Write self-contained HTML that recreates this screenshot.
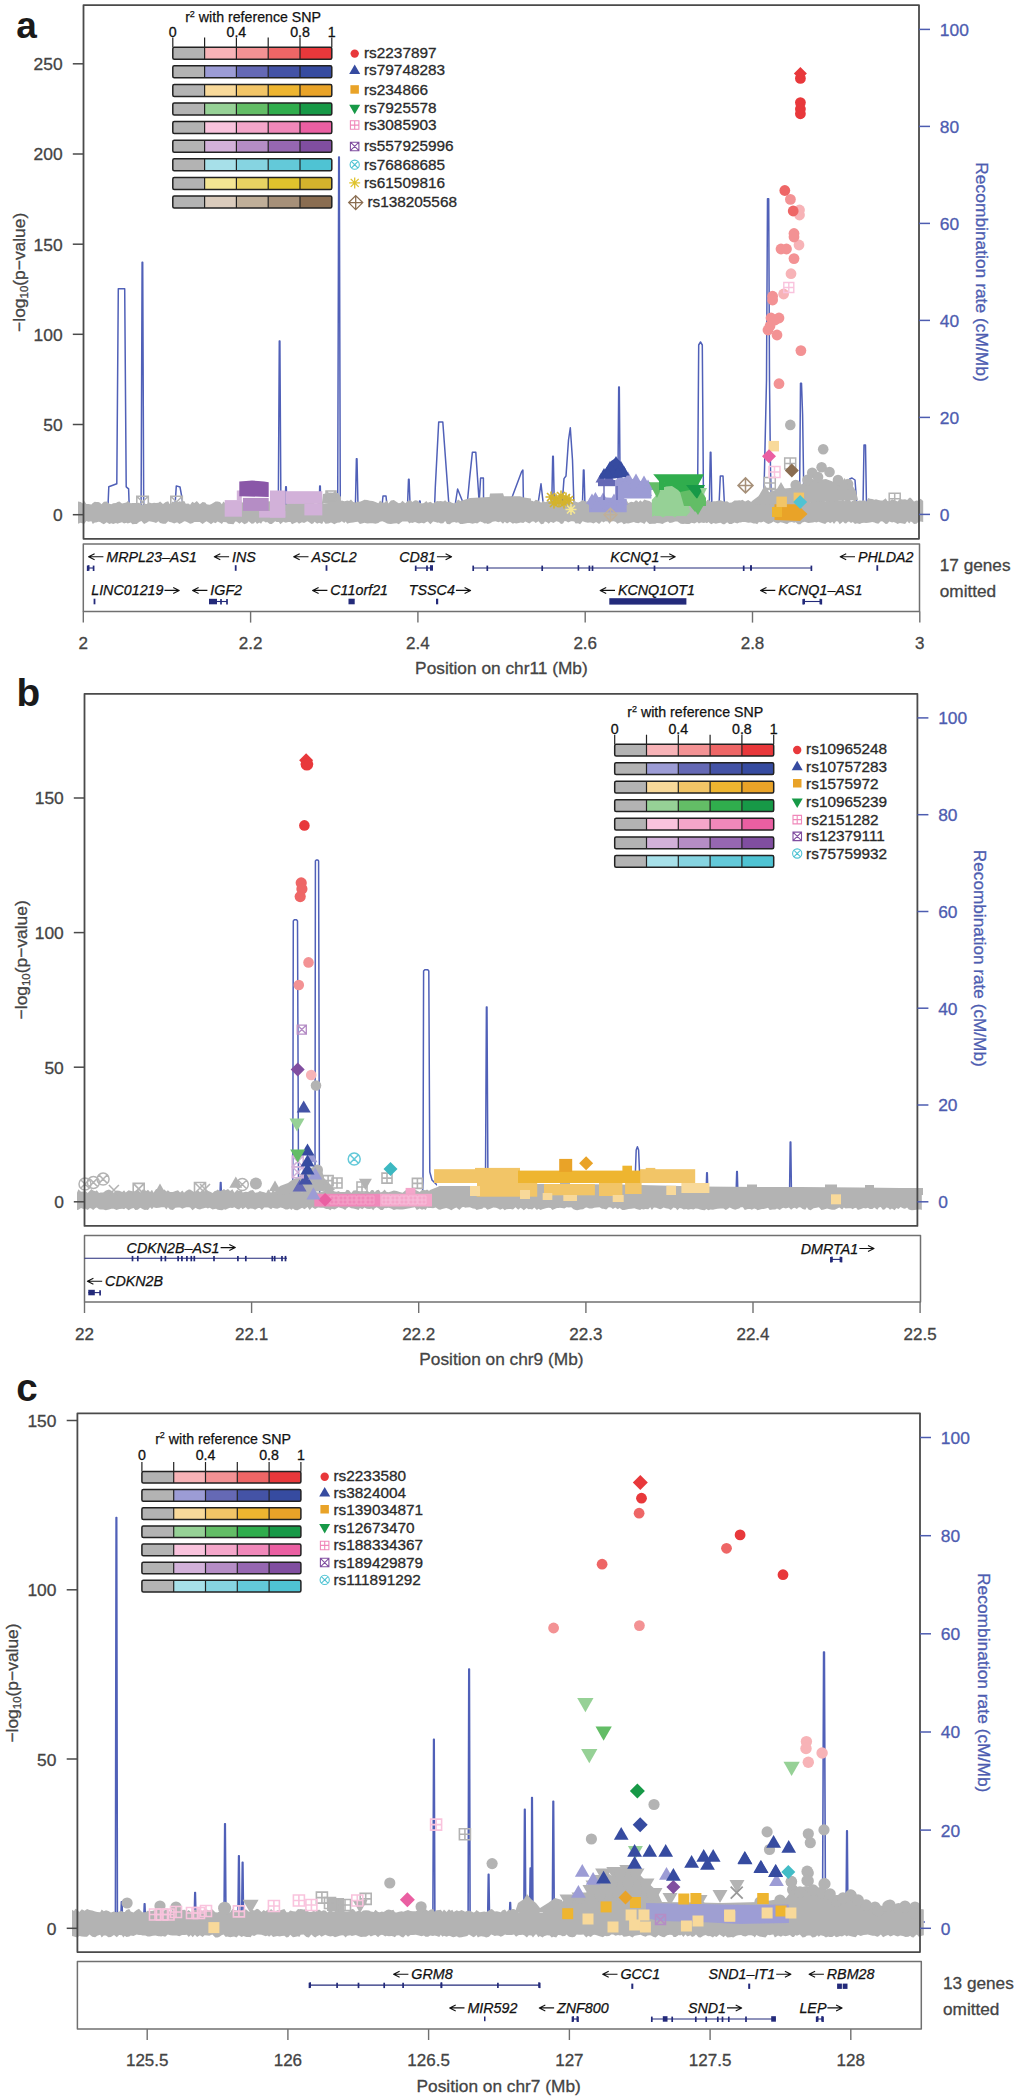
<!DOCTYPE html>
<html><head><meta charset="utf-8"><style>
html,body{margin:0;padding:0;background:#fff;}
svg{display:block;font-family:'Liberation Sans', sans-serif;}

</style></head><body>
<svg width="1019" height="2100" viewBox="0 0 1019 2100">
<rect width="1019" height="2100" fill="#fff"/>
<polyline points="80,506 108,506 108.8,486.8 116.8,483.8 118.3,288.7 124.7,288.7 126.2,486.8 128.6,488.8 129.2,506 141.1,506 142.1,262.2 142.7,262.2 143.7,506 175,506 176.3,485.9 180,487 182,498 183,506 278.3,506 279.3,341 279.9,341 280.9,506 285.2,506 285.7,486.8 286.3,486.8 286.8,506 319.2,506 319.7,486 320.3,486 320.8,506 337.7,506 338.7,157 339.3,157 340.3,506 355.4,506 356.4,458.8 357,458.8 358,506 382,506 383,496 386,496 387,506 407.5,506 408.5,479.3 409.1,479.3 410.1,506 419,506 419.5,501 420.1,501 420.6,506 434.6,506 435.3,487.2 438.7,422 442.8,422 449,506 455,506 457.6,489 462.8,502 467,506 469.6,478.6 472.4,452.2 475.8,452.2 479.2,502.7 480.6,478 483.4,478 483.6,506 508,506 512.6,495.8 521.5,472 522.9,470 523.5,506 537,506 538.3,502 541,483.8 543.5,506 551.7,506 552.7,456.3 553.3,456.3 554.3,506 562,506 564,478.6 566,476 568.5,440 570.3,427.8 572.5,460 574,506 582.4,506 583.4,470 584,470 585,506 617.7,506 618.7,387 619.3,387 620.3,506 697.5,506 698.7,345 700.5,342 702.3,345 703.5,506 709.3,506 710.3,452.3 710.9,452.3 711.9,506 719,506 720.3,476 723,476 724.5,506 763.5,506 764.5,470 766.5,380 767.5,198.7 768.7,198.7 769.5,380 770.5,470 771.5,506 799.5,506 800.5,383.2 801.5,383.2 802.6,414.6 804,506 848.5,506 849.7,479 852,478 855,480 856.5,500 857,506 863,506 864,445 865.5,445 866.5,506 919,506" fill="none" stroke="#5060b8" stroke-width="1.5" stroke-linejoin="round"/>
<path d="M136.8 496.2h11.5v11.5h-11.5zM136.8 496.2L148.2 507.8M148.2 496.2L136.8 507.8" fill="none" stroke="#b3b3b3" stroke-width="1.6"/>
<path d="M170.8 496.2h11.5v11.5h-11.5zM170.8 496.2L182.2 507.8M182.2 496.2L170.8 507.8" fill="none" stroke="#b3b3b3" stroke-width="1.6"/>
<polygon points="78,501.5 80.7,502 82.8,503.6 84.3,501.1 86.3,504 88.4,503.9 91.4,504.6 92.8,503.1 94.8,501.8 96.2,501.9 98.3,501.9 100.1,502.8 101.4,504.3 103.9,501.7 106.7,501.4 109.3,503.8 111.3,504.3 113.2,503.3 116,503 117.4,501.9 119.4,501.6 122,503.6 124.1,503 126.3,502.5 127.7,501.1 130.8,503.3 132.4,502.9 135,503.1 136.8,503 139.1,502.7 141.4,504.7 144.1,504.2 146.7,504.1 149,502.6 151.9,503.2 154.1,502.8 156,503 158.4,502.7 160.1,501.6 163,504.1 165.7,501.9 168.2,501.2 169.6,503.9 171.1,503.4 172.5,501.5 174.2,502 176.3,502.1 177.6,502.4 179.3,501.3 181.5,501.7 184.3,500.9 185.8,503.7 188.4,503.6 190.1,504.7 192.3,501.7 194.4,503.1 196.8,501.1 199.8,504.3 202.6,502.1 205.3,502.5 206.6,504.3 209.4,504.7 211,504.3 213.5,502.8 215.5,501.6 217.6,501.6 220,502 221.9,504.3 223.3,501.6 226.3,503.9 228,503.5 231,502.2 233.5,502.7 235.3,503.7 236.9,504.4 239.5,503.2 241.5,502.1 244.4,503.2 247.2,501.3 248.7,500.9 251.6,503.9 253.5,503.2 255.5,503 257,501.8 259.3,504.5 261.1,503.9 262.4,503.4 263.9,504.3 265.7,504.7 267.2,501.4 269.8,501.2 271.8,504.6 273.7,501.7 275.2,503.3 276.5,504.7 278.9,502.5 280.3,504.4 283.3,501.2 285.7,504.6 288.3,503.4 290.5,501.9 292,501.8 294.1,503.3 297.1,502.3 299,502 301.9,501.8 304.1,502.9 305.9,500.5 307.3,502.6 308.8,502.9 311.5,502.2 313.1,502.2 314.6,503.9 317.2,503.9 319.1,500.4 322.1,501 323.6,503.4 325.5,503.3 328.4,502.9 331,500.2 332.6,502.4 334.3,499.8 337.1,501.7 339.9,501.3 341.8,500.5 344.3,501.2 345.7,500.9 347.2,500.5 349.2,501.1 351,499.5 353.2,502.1 355.7,502.4 357.9,501.4 359.9,501.7 362.9,500.6 364.3,499.8 367.2,500.1 370,500.7 372.8,501 375.5,501.9 378.4,503.3 380,500.5 382.3,502.5 384.8,502.4 387.1,500.2 388.4,503.4 390.9,500.6 393.9,500.1 396.7,502.1 398.8,503.2 400.8,502.7 402.4,500.8 405.3,503.3 407.7,501.1 409.5,500.5 410.9,500.3 412.2,502 415,500.3 417.3,500.6 419,502.2 421.8,503.4 424,502.9 426.3,501 427.8,502.7 430.4,501.7 433.1,503.4 435.3,501.8 437.5,500.9 438.8,501.3 440.7,501.1 443.2,501.5 445.2,500.3 447,501.9 449.8,501.5 451.9,502.8 454.5,503.5 456.2,502 458.1,499.5 460.2,501.1 462.5,502.4 465.2,501.5 467.6,502.1 469.6,502 472.6,502.6 475.3,502.8 477.2,500.6 480.1,501.7 482.9,501.4 484.3,501.5 486.3,500.9 487.7,501.5 490.2,501.1 492.6,500.3 495.5,500.6 498.3,501.6 500.5,502.4 503,502.4 504.7,501.9 507.1,500.2 509.9,500.8 512.9,502.3 514.3,503.1 516.2,501.2 518.9,500.3 520.5,503.4 523.4,502.4 525.2,501.6 526.8,502.4 529.4,500.5 532,500.7 534,501.5 535.6,499.7 538.5,500.4 541.1,502.8 543.5,500.8 545,502.2 547,501.4 548.7,500.4 550.8,501.7 553.4,500.7 556.3,503.3 559,502.8 561,501.6 563,502.8 564.6,502.9 566.2,501.9 568.2,499.8 571,502.9 572.4,502.6 574.2,499.7 575.6,501.8 578.1,502.6 580.1,501.7 582.6,500.1 585.5,501.5 587.9,501.3 589.3,500.5 591,502.6 593.5,501.9 596.1,502 599.1,499.6 601.9,502.4 603.4,502.3 605.4,502.9 607.7,500.8 609.7,501.8 611,501.1 613.8,499.3 615.8,501.9 617.3,502.2 620.1,500.2 621.9,501.2 623.8,502.1 626.2,499.4 628.3,503 631.1,501.8 633.9,502.3 635.5,500.5 637,500.4 638.4,502.3 640.3,500.2 642.2,502 644.4,499.6 646.3,500.3 649.4,500.9 652.3,502.9 655.3,502.7 656.8,501.1 659.9,502.1 662.5,500.4 665,500.6 668,501.1 669.6,501.7 672.5,499.7 675.1,499.2 677.4,500.1 679.2,501.5 680.7,499.3 683.1,499.7 684.5,500.5 687,500.1 689.4,502.5 691.5,501.7 694.5,502.2 697.2,503 698.9,502 701.1,500.9 704,502.2 705.4,502.4 707,500.2 708.4,499.5 711.2,502 713.5,501.3 715.8,501.2 718.8,500.6 720.6,500.2 723,501.2 724.6,501.5 727.2,501.3 729.2,502.7 731.7,502.6 734.5,500.5 737.3,500.5 739.4,500.3 740.9,500.4 742.3,499.7 745.1,501.4 748.2,500 750.8,501.8 753.5,500.9 755.7,502.8 757.2,499.5 758.9,499 761.1,502.7 763.7,502.2 766.1,502.8 768.3,500.2 771.3,499.2 773.4,501.5 775.2,499.9 777.9,502.2 780.4,499.1 782.9,499.9 785.8,499.1 787.3,500.2 789,500.7 791.9,502.6 794.1,502.2 795.8,501.6 797.9,498.6 800.4,502.2 802.2,500.7 804.9,501.9 806.7,501.3 808.2,499.3 810.6,502.3 813,499 814.8,501.2 816.5,499.9 818.4,500.8 821.3,501.1 822.7,499.6 825.2,501.6 827,500.3 828.6,498.8 830.1,500.4 832.4,501 834,500.5 836.1,498.2 838,500.7 839.7,500.9 841.6,500.6 843,499.5 844.7,501.2 846.1,498.4 847.6,499.4 849,498.2 851,501.8 852.8,500.8 855,499.3 857,501.2 859.8,500.4 861.8,500.7 864,500.2 866.1,501.5 868.3,498.1 870,498.8 872.2,498.9 874.5,499.7 876,499.3 878.3,500 880.9,500.5 882.7,500.5 885.7,498.3 887.4,501.1 889.3,501.3 892.1,499.2 893.6,500.1 896.1,500.8 897.4,501.4 899.9,499.1 902.8,499.4 905.1,499.2 907.2,500 909.3,497.7 910.7,497.7 912.2,499.5 914,501.4 916.5,500.6 918.2,500.7 920.6,498.8 923.2,501 923.2,522.1 920.6,521.6 918.2,521.9 916.5,523.7 914,524 912.2,522.2 910.7,521.5 909.3,523.4 907.2,521.3 905.1,524.1 902.8,523.6 899.9,522.9 897.4,524 896.1,523 893.6,522 892.1,522.5 889.3,521.6 887.4,523.8 885.7,523.9 882.7,521.6 880.9,521.2 878.3,523.8 876,523.2 874.5,522.4 872.2,522 870,522.5 868.3,522.7 866.1,523.1 864,522.8 861.8,523.1 859.8,523.9 857,523.2 855,524.1 852.8,522 851,523.1 849,521.5 847.6,522 846.1,523.4 844.7,523.3 843,521.5 841.6,522.8 839.7,524.3 838,521.4 836.1,521.2 834,523.9 832.4,521.8 830.1,523.3 828.6,521.9 827,522.2 825.2,524 822.7,523.3 821.3,522.8 818.4,521.7 816.5,522.6 814.8,522 813,522.4 810.6,522.8 808.2,522.9 806.7,522.4 804.9,521.8 802.2,522.5 800.4,524.2 797.9,524.3 795.8,522.2 794.1,522.8 791.9,522 789,522.4 787.3,524 785.8,523.8 782.9,522.7 780.4,522.3 777.9,523.6 775.2,522.6 773.4,521.5 771.3,522.9 768.3,524.1 766.1,522.9 763.7,521.4 761.1,522.4 758.9,521.9 757.2,524.2 755.7,523.4 753.5,523.4 750.8,522.5 748.2,522.7 745.1,522 742.3,521.9 740.9,522.4 739.4,522.6 737.3,523.5 734.5,522.6 731.7,524.1 729.2,524 727.2,522.3 724.6,524.3 723,524.2 720.6,522.7 718.8,523.1 715.8,523.7 713.5,522.9 711.2,524.2 708.4,522.1 707,523.3 705.4,522.6 704,523 701.1,522.4 698.9,523.6 697.2,521.9 694.5,523.4 691.5,522.8 689.4,524 687,524 684.5,523.8 683.1,523.9 680.7,523.8 679.2,522.8 677.4,521.4 675.1,521.4 672.5,522.4 669.6,522.9 668,521.6 665,522.6 662.5,524.1 659.9,523.3 656.8,522.9 655.3,523.7 652.3,523.7 649.4,524 646.3,521.3 644.4,524 642.2,522.7 640.3,522.2 638.4,523.2 637,522.9 635.5,522.8 633.9,522 631.1,522.8 628.3,523.4 626.2,523.2 623.8,524.2 621.9,522.2 620.1,522.5 617.3,523.7 615.8,522.1 613.8,521.2 611,521.4 609.7,523.9 607.7,521.5 605.4,521.2 603.4,522.6 601.9,521.3 599.1,524 596.1,521.9 593.5,523.5 591,522.5 589.3,522.4 587.9,522.8 585.5,522.2 582.6,521.3 580.1,524.2 578.1,523.2 575.6,523.5 574.2,521.4 572.4,521.2 571,521.2 568.2,522.6 566.2,521.3 564.6,521.1 563,523.5 561,524 559,522.1 556.3,521.2 553.4,523 550.8,521.8 548.7,523.7 547,522.3 545,521.4 543.5,523.8 541.1,524.2 538.5,521.2 535.6,523 534,521.4 532,521.4 529.4,523.4 526.8,522.3 525.2,521.5 523.4,523 520.5,522.5 518.9,523.1 516.2,523.5 514.3,523.1 512.9,523.8 509.9,521.8 507.1,523.6 504.7,521.8 503,523.7 500.5,521.6 498.3,522.3 495.5,521.3 492.6,521.8 490.2,523.3 487.7,524.1 486.3,523.2 484.3,523.5 482.9,522.6 480.1,521.6 477.2,523.4 475.3,523 472.6,523.8 469.6,523.1 467.6,523.1 465.2,523.5 462.5,524 460.2,523.9 458.1,522.3 456.2,522.8 454.5,522.1 451.9,522.4 449.8,524.3 447,523.9 445.2,521.1 443.2,523.2 440.7,523.6 438.8,522.5 437.5,522.8 435.3,522.1 433.1,521.5 430.4,524.2 427.8,521.5 426.3,522 424,523.6 421.8,522.8 419,523.6 417.3,523 415,522 412.2,523 410.9,522.5 409.5,523.5 407.7,521.5 405.3,521.5 402.4,521.5 400.8,522.5 398.8,524.2 396.7,523.3 393.9,523.6 390.9,524 388.4,523.7 387.1,523.4 384.8,522.2 382.3,521.3 380,521.8 378.4,522.9 375.5,523.8 372.8,523.3 370,523.3 367.2,523.6 364.3,522.7 362.9,523.2 359.9,524 357.9,521.8 355.7,521.9 353.2,522.5 351,522.8 349.2,523.1 347.2,523.8 345.7,521.5 344.3,522.9 341.8,521.2 339.9,522.4 337.1,522.8 334.3,524.2 332.6,523.2 331,522.5 328.4,523.5 325.5,523.7 323.6,521.2 322.1,524 319.1,522.7 317.2,523.7 314.6,521.7 313.1,523.6 311.5,523.9 308.8,522 307.3,521.3 305.9,521.9 304.1,523 301.9,522.2 299,523.8 297.1,522.1 294.1,523.2 292,524.2 290.5,521.9 288.3,521.9 285.7,522.8 283.3,521.8 280.3,524.2 278.9,522.1 276.5,522 275.2,521.2 273.7,522.6 271.8,524 269.8,524 267.2,521.9 265.7,522.4 263.9,521.2 262.4,521.4 261.1,523.7 259.3,522.6 257,524 255.5,521.8 253.5,523.6 251.6,523.8 248.7,521.3 247.2,522.9 244.4,524.2 241.5,522 239.5,523.8 236.9,521.8 235.3,521.4 233.5,524.3 231,523.9 228,523.8 226.3,522.2 223.3,522.1 221.9,524 220,522.7 217.6,521.4 215.5,523.3 213.5,522.3 211,524.2 209.4,522.9 206.6,521.2 205.3,521.9 202.6,524.1 199.8,522.1 196.8,522.1 194.4,522.1 192.3,523.2 190.1,523.7 188.4,522.8 185.8,521.6 184.3,521.2 181.5,523 179.3,524 177.6,522.4 176.3,522.6 174.2,523.4 172.5,522.8 171.1,522.2 169.6,521.9 168.2,521.2 165.7,523.8 163,523.7 160.1,523 158.4,521.2 156,523.1 154.1,522.2 151.9,521.7 149,521.3 146.7,522.8 144.1,523.9 141.4,521.1 139.1,522 136.8,524.1 135,523.9 132.4,524.2 130.8,522.4 127.7,523.4 126.3,522.7 124.1,523.6 122,522.3 119.4,522.9 117.4,523.7 116,523 113.2,523.9 111.3,523.2 109.3,524.1 106.7,522.2 103.9,524.3 101.4,522.9 100.1,522 98.3,521.8 96.2,522.5 94.8,522.5 92.8,524.1 91.4,521.2 88.4,521.8 86.3,521.1 84.3,523.8 82.8,523.6 80.7,522.7 78,523.8" fill="#b3b3b3"/>
<circle cx="790.3" cy="424.9" r="5.3" fill="#b3b3b3"/>
<circle cx="823.2" cy="449.3" r="5.3" fill="#b3b3b3"/>
<path d="M764.3 477.5h11v11h-11zM769.8 477.5v11M764.3 483h11" fill="none" stroke="#b3b3b3" stroke-width="1.5"/>
<path d="M784.7 457.9h11v11h-11zM790.2 457.9v11M784.7 463.4h11" fill="none" stroke="#b3b3b3" stroke-width="1.5"/>
<path d="M889.2 493.2h11v11h-11zM894.7 493.2v11M889.2 498.7h11" fill="none" stroke="#b3b3b3" stroke-width="1.5"/>
<path d="M766.5 489.5h11v11h-11zM772 489.5v11M766.5 495h11" fill="none" stroke="#b3b3b3" stroke-width="1.5"/>
<polygon points="752,501 760,495 770,492 778,489 790,488 800,485 806,482 812,479 818,480 826,479 834,482 844,481 852,485 856,491 858,500 752,505" fill="#b3b3b3"/>
<circle cx="812.2" cy="472.8" r="5.3" fill="#b3b3b3"/>
<circle cx="821.6" cy="467.3" r="5.3" fill="#b3b3b3"/>
<circle cx="829.5" cy="472" r="5.3" fill="#b3b3b3"/>
<circle cx="807.5" cy="479.9" r="5.3" fill="#b3b3b3"/>
<circle cx="795.7" cy="485" r="5.3" fill="#b3b3b3"/>
<circle cx="818" cy="477" r="5.3" fill="#b3b3b3"/>
<circle cx="838" cy="480" r="5.3" fill="#b3b3b3"/>
<circle cx="848" cy="484" r="5.3" fill="#b3b3b3"/>
<polygon points="844.4,478 837.9,489.3 850.9,489.3" fill="#b3b3b3"/>
<polygon points="781,482 774.5,493.3 787.5,493.3" fill="#b3b3b3"/>
<polygon points="765,485 758.5,496.3 771.5,496.3" fill="#b3b3b3"/>
<polygon points="455,504 462,500.5 470,498 480,497.5 489.5,497 490,493.5 503,493.2 504,496.2 520,496.2 524,497.5 531,498.5 531,505 455,505" fill="#b3b3b3"/>
<rect x="224.7" y="500.1" width="17.2" height="16.6" fill="#d2b1d9"/>
<rect x="236.8" y="490.5" width="5" height="10" fill="#d2b1d9"/>
<rect x="259.1" y="510.9" width="26.2" height="6.7" fill="#d2b1d9"/>
<rect x="270" y="490.5" width="15.3" height="27.1" fill="#d2b1d9"/>
<rect x="285.3" y="491.2" width="37" height="12.7" fill="#d2b1d9"/>
<rect x="304.4" y="503.9" width="17.9" height="11.5" fill="#d2b1d9"/>
<rect x="242.9" y="497.9" width="25.8" height="13" fill="#b58dc5"/>
<polygon points="239.3,481.5 246,481 252,480.5 258,481 264,481.5 268.7,482.3 268.7,496.9 239.3,496.3" fill="#8a57a8"/>
<polygon points="322,503 323,494 330,492.5 338,493 341,497 341,503" fill="#b3b3b3"/>
<path d="M326 491h10v10h-10zM326 491L336 501M336 491L326 501" fill="none" stroke="#b3b3b3" stroke-width="1.5"/>
<path d="M545.5 497h11M551 491.5v11M547 493L555 501M555 493L547 501" fill="none" stroke="#d4b32c" stroke-width="1.6"/>
<path d="M550.5 499h11M556 493.5v11M552 495L560 503M560 495L552 503" fill="none" stroke="#d4b32c" stroke-width="1.6"/>
<path d="M555.5 496h11M561 490.5v11M557 492L565 500M565 492L557 500" fill="none" stroke="#d4b32c" stroke-width="1.6"/>
<path d="M560.5 498h11M566 492.5v11M562 494L570 502M570 494L562 502" fill="none" stroke="#d4b32c" stroke-width="1.6"/>
<path d="M553.5 502h11M559 496.5v11M555 498L563 506M563 498L555 506" fill="none" stroke="#d4b32c" stroke-width="1.6"/>
<path d="M548.5 503h11M554 497.5v11M550 499L558 507M558 499L550 507" fill="none" stroke="#d4b32c" stroke-width="1.6"/>
<path d="M558.5 503h11M564 497.5v11M560 499L568 507M568 499L560 507" fill="none" stroke="#d4b32c" stroke-width="1.6"/>
<path d="M563.5 500h11M569 494.5v11M565 496L573 504M573 496L565 504" fill="none" stroke="#d4b32c" stroke-width="1.6"/>
<path d="M565.5 509.5h11M571 504v11M567 505.5L575 513.5M575 505.5L567 513.5" fill="none" stroke="#f4e693" stroke-width="1.6"/>
<polygon points="589,498.6 600,497 615,498 626.7,499 626.7,512.3 589,512.3" fill="#9c9cd5"/>
<polygon points="595.4,491.9 587.9,504.9 602.9,504.9" fill="#9c9cd5"/>
<polygon points="592,493.6 586,503.9 598,503.9" fill="#9c9cd5"/>
<polygon points="603,492.6 597,502.9 609,502.9" fill="#9c9cd5"/>
<polygon points="614,493.6 608,503.9 620,503.9" fill="#9c9cd5"/>
<polygon points="622,494.6 616,504.9 628,504.9" fill="#9c9cd5"/>
<polygon points="597,498.6 591,508.9 603,508.9" fill="#9c9cd5"/>
<polygon points="610,499.6 604,509.9 616,509.9" fill="#9c9cd5"/>
<polygon points="620,499.6 614,509.9 626,509.9" fill="#9c9cd5"/>
<polygon points="615,480 622,478 632,479 640,481 651.4,483 651.4,498.6 615,498.6" fill="#9c9cd5"/>
<polygon points="620,473.6 614,483.9 626,483.9" fill="#9c9cd5"/>
<polygon points="628,471.6 622,481.9 634,481.9" fill="#9c9cd5"/>
<polygon points="636,473.6 630,483.9 642,483.9" fill="#9c9cd5"/>
<polygon points="644,475.6 638,485.9 650,485.9" fill="#9c9cd5"/>
<polygon points="648,479.6 642,489.9 654,489.9" fill="#9c9cd5"/>
<polygon points="625,478.6 619,488.9 631,488.9" fill="#9c9cd5"/>
<polygon points="640,481.6 634,491.9 646,491.9" fill="#9c9cd5"/>
<polygon points="646,485.6 640,495.9 652,495.9" fill="#9c9cd5"/>
<rect x="598" y="480" width="17" height="6.2" fill="#6569b5"/>
<polygon points="601,473.1 595.5,482.6 606.5,482.6" fill="#6569b5"/>
<polygon points="609,472.1 603.5,481.6 614.5,481.6" fill="#6569b5"/>
<line x1="604" y1="486" x2="604" y2="500" stroke="#6569b5" stroke-width="1.4"/>
<line x1="617" y1="486" x2="617" y2="500" stroke="#6569b5" stroke-width="1.4"/>
<polygon points="599.2,478.7 606,468 611,461 616,457.8 620,461 624,467 627,474.5 626,477 612,478.7" fill="#364ba0"/>
<polygon points="604,468.1 598.5,477.6 609.5,477.6" fill="#364ba0"/>
<polygon points="610,461.1 604.5,470.6 615.5,470.6" fill="#364ba0"/>
<polygon points="616,456.1 610.5,465.6 621.5,465.6" fill="#364ba0"/>
<polygon points="621,461.1 615.5,470.6 626.5,470.6" fill="#364ba0"/>
<polygon points="624,466.1 618.5,475.6 629.5,475.6" fill="#364ba0"/>
<polygon points="608,468.1 602.5,477.6 613.5,477.6" fill="#364ba0"/>
<polygon points="618,467.1 612.5,476.6 623.5,476.6" fill="#364ba0"/>
<polygon points="653.2,474.2 704,474.2 697,487 692,494 684,497 678,492 670,494 664,487 658,480" fill="#30ad4d"/>
<polygon points="651.8,500 658,493 663,488 666,486.5 672,486 678,490 688,500 690,512 686,516.5 680,513 675,517.5 669,514 663,517.5 657,514 652,517" fill="#96d196"/>
<polygon points="655,500 688,500 686,516 655,516" fill="#96d196"/>
<polygon points="648.8,482.3 664.3,482.3 657,498" fill="#63bd66"/>
<polygon points="680,492 700,488 706,498 706,506 684,506" fill="#63bd66"/>
<polygon points="659,478 664,478 664,490 659,490" fill="#30ad4d"/>
<polygon points="686,485 705,485 697,499" fill="#179947"/>
<polygon points="684,498.5 706,498.5 695,512" fill="#63bd66"/>
<polygon points="690,503 705,503 698,515" fill="#63bd66"/>
<polygon points="700,488 707,488 703.5,495" fill="#96d196"/>
<path d="M610.5 508.2L617 514.7L610.5 521.2L604 514.7zM610.5 508.2v13M604 514.7h13" fill="none" stroke="#c0af99" stroke-width="1.4"/>
<circle cx="799.5" cy="210" r="5.4" fill="#f7b3b7"/>
<circle cx="799.5" cy="215" r="5.4" fill="#f7b3b7"/>
<circle cx="799" cy="245" r="5.4" fill="#f7b3b7"/>
<circle cx="791" cy="273.7" r="5.4" fill="#f7b3b7"/>
<circle cx="783.6" cy="294" r="5.4" fill="#f7b3b7"/>
<circle cx="790.4" cy="199.4" r="5.4" fill="#f39294"/>
<circle cx="794" cy="233.5" r="5.4" fill="#f39294"/>
<circle cx="794" cy="237" r="5.4" fill="#f39294"/>
<circle cx="781" cy="249" r="5.4" fill="#f39294"/>
<circle cx="786.5" cy="249" r="5.4" fill="#f39294"/>
<circle cx="794" cy="258.6" r="5.4" fill="#f39294"/>
<circle cx="772.6" cy="296.2" r="5.4" fill="#f39294"/>
<circle cx="772.6" cy="300" r="5.4" fill="#f39294"/>
<circle cx="771" cy="318" r="5.4" fill="#f39294"/>
<circle cx="779" cy="318" r="5.4" fill="#f39294"/>
<circle cx="768" cy="330" r="5.4" fill="#f39294"/>
<circle cx="777" cy="335" r="5.4" fill="#f39294"/>
<circle cx="800.9" cy="350.6" r="5.4" fill="#f39294"/>
<circle cx="775" cy="320" r="5.4" fill="#f39294"/>
<circle cx="770" cy="326" r="5.4" fill="#f39294"/>
<circle cx="779" cy="383.7" r="5.4" fill="#f39294"/>
<circle cx="784.8" cy="190.5" r="5.4" fill="#ee6666"/>
<circle cx="793.2" cy="211" r="5.4" fill="#ee6666"/>
<circle cx="800.4" cy="78.4" r="5.4" fill="#e8383b"/>
<circle cx="800.4" cy="102.6" r="5.4" fill="#e8383b"/>
<circle cx="800.4" cy="109" r="5.4" fill="#e8383b"/>
<circle cx="800.4" cy="113.8" r="5.4" fill="#e8383b"/>
<polygon points="800.4,67 806.9,73.5 800.4,80 793.9,73.5" fill="#e8383b"/>
<path d="M783.8 282.5h10v10h-10zM788.8 282.5v10M783.8 287.5h10" fill="none" stroke="#f9c3dd" stroke-width="1.4"/>
<rect x="768.5" y="440.9" width="10.5" height="10.5" fill="#f8d99a"/>
<polygon points="769,449.3 776,456.3 769,463.3 762,456.3" fill="#ea5fa2"/>
<path d="M769 466.5h11v11h-11zM774.5 466.5v11M769 472h11" fill="none" stroke="#f9c3dd" stroke-width="1.5"/>
<polygon points="791.8,463.4 798.8,470.4 791.8,477.4 784.8,470.4" fill="#8a6d51"/>
<path d="M745.5 477.9L753 485.4L745.5 492.9L738 485.4zM745.5 477.9v15M738 485.4h15" fill="none" stroke="#a69079" stroke-width="1.5"/>
<polygon points="774.5,504.2 797,504.2 807.5,514 800,521 774.5,520" fill="#e9a328"/>
<rect x="776.4" y="496.6" width="10.5" height="10.5" fill="#f2c567"/>
<rect x="793.6" y="492.6" width="10.5" height="10.5" fill="#f2c567"/>
<rect x="772" y="507" width="10" height="10" fill="#eeb530"/>
<rect x="785" y="509" width="10" height="10" fill="#e9a328"/>
<polygon points="800.1,494.9 807.1,501.9 800.1,508.9 793.1,501.9" fill="#4fc3d3"/>
<rect x="83.5" y="5.1" width="835.5" height="533.7" fill="none" stroke="#4a4a4a" stroke-width="1.8" stroke-linejoin="round"/>
<line x1="72.8" y1="514.7" x2="83.5" y2="514.7" stroke="#4a4a4a" stroke-width="1.5"/>
<text x="62.6" y="521.1" style="font-size:17.4px;" text-anchor="end" fill="#444444" stroke="#444444" stroke-width="0.3">0</text>
<line x1="72.8" y1="424.5" x2="83.5" y2="424.5" stroke="#4a4a4a" stroke-width="1.5"/>
<text x="62.6" y="430.9" style="font-size:17.4px;" text-anchor="end" fill="#444444" stroke="#444444" stroke-width="0.3">50</text>
<line x1="72.8" y1="334.3" x2="83.5" y2="334.3" stroke="#4a4a4a" stroke-width="1.5"/>
<text x="62.6" y="340.7" style="font-size:17.4px;" text-anchor="end" fill="#444444" stroke="#444444" stroke-width="0.3">100</text>
<line x1="72.8" y1="244.2" x2="83.5" y2="244.2" stroke="#4a4a4a" stroke-width="1.5"/>
<text x="62.6" y="250.6" style="font-size:17.4px;" text-anchor="end" fill="#444444" stroke="#444444" stroke-width="0.3">150</text>
<line x1="72.8" y1="154" x2="83.5" y2="154" stroke="#4a4a4a" stroke-width="1.5"/>
<text x="62.6" y="160.4" style="font-size:17.4px;" text-anchor="end" fill="#444444" stroke="#444444" stroke-width="0.3">200</text>
<line x1="72.8" y1="63.8" x2="83.5" y2="63.8" stroke="#4a4a4a" stroke-width="1.5"/>
<text x="62.6" y="70.2" style="font-size:17.4px;" text-anchor="end" fill="#444444" stroke="#444444" stroke-width="0.3">250</text>
<line x1="919" y1="514.4" x2="930" y2="514.4" stroke="#4d5cb0" stroke-width="1.5"/>
<text x="939.8" y="520.8" style="font-size:17.4px;" text-anchor="start" fill="#4d5cb0" stroke="#4d5cb0" stroke-width="0.3">0</text>
<line x1="919" y1="417.4" x2="930" y2="417.4" stroke="#4d5cb0" stroke-width="1.5"/>
<text x="939.8" y="423.8" style="font-size:17.4px;" text-anchor="start" fill="#4d5cb0" stroke="#4d5cb0" stroke-width="0.3">20</text>
<line x1="919" y1="320.4" x2="930" y2="320.4" stroke="#4d5cb0" stroke-width="1.5"/>
<text x="939.8" y="326.8" style="font-size:17.4px;" text-anchor="start" fill="#4d5cb0" stroke="#4d5cb0" stroke-width="0.3">40</text>
<line x1="919" y1="223.4" x2="930" y2="223.4" stroke="#4d5cb0" stroke-width="1.5"/>
<text x="939.8" y="229.8" style="font-size:17.4px;" text-anchor="start" fill="#4d5cb0" stroke="#4d5cb0" stroke-width="0.3">60</text>
<line x1="919" y1="126.4" x2="930" y2="126.4" stroke="#4d5cb0" stroke-width="1.5"/>
<text x="939.8" y="132.8" style="font-size:17.4px;" text-anchor="start" fill="#4d5cb0" stroke="#4d5cb0" stroke-width="0.3">80</text>
<line x1="919" y1="29.4" x2="930" y2="29.4" stroke="#4d5cb0" stroke-width="1.5"/>
<text x="939.8" y="35.8" style="font-size:17.4px;" text-anchor="start" fill="#4d5cb0" stroke="#4d5cb0" stroke-width="0.3">100</text>
<text x="25.1" y="272.3" style="font-size:17.4px" text-anchor="middle" fill="#444444" stroke="#444444" stroke-width="0.3" transform="rotate(-90 25.1 272.3)">−log<tspan style="font-size:11.5px" dy="3">10</tspan><tspan dy="-3">(p−value)</tspan></text>
<text x="976.3" y="272" style="font-size:17.4px" text-anchor="middle" fill="#4d5cb0" stroke="#4d5cb0" stroke-width="0.3" transform="rotate(90 976.3 272)">Recombination rate (cM/Mb)</text>
<text x="16.3" y="37.8" style="font-size:37px;font-weight:bold;" text-anchor="start" fill="#1a1a1a">a</text>
<text x="253.1" y="22.2" style="font-size:14.2px" text-anchor="middle" fill="#111" stroke="#111" stroke-width="0.25">r<tspan style="font-size:9px" dy="-5.5">2</tspan><tspan dy="5.5"> with reference SNP</tspan></text>
<text x="172.8" y="37.2" style="font-size:14.2px;" text-anchor="middle" fill="#111" stroke="#111" stroke-width="0.3">0</text>
<text x="236.4" y="37.2" style="font-size:14.2px;" text-anchor="middle" fill="#111" stroke="#111" stroke-width="0.3">0.4</text>
<text x="300" y="37.2" style="font-size:14.2px;" text-anchor="middle" fill="#111" stroke="#111" stroke-width="0.3">0.8</text>
<text x="331.8" y="37.2" style="font-size:14.2px;" text-anchor="middle" fill="#111" stroke="#111" stroke-width="0.3">1</text>
<line x1="172.8" y1="37.5" x2="172.8" y2="47.2" stroke="#222" stroke-width="1.2"/>
<line x1="204.6" y1="37.5" x2="204.6" y2="47.2" stroke="#222" stroke-width="1.2"/>
<line x1="236.4" y1="37.5" x2="236.4" y2="47.2" stroke="#222" stroke-width="1.2"/>
<line x1="268.2" y1="37.5" x2="268.2" y2="47.2" stroke="#222" stroke-width="1.2"/>
<line x1="300" y1="37.5" x2="300" y2="47.2" stroke="#222" stroke-width="1.2"/>
<line x1="331.8" y1="37.5" x2="331.8" y2="47.2" stroke="#222" stroke-width="1.2"/>
<rect x="172.8" y="47.2" width="31.8" height="12" fill="#b3b3b3"/>
<rect x="204.6" y="47.2" width="31.8" height="12" fill="#f7b3b7"/>
<rect x="236.4" y="47.2" width="31.8" height="12" fill="#f39294"/>
<rect x="268.2" y="47.2" width="31.8" height="12" fill="#ee6666"/>
<rect x="300" y="47.2" width="31.8" height="12" fill="#e8383b"/>
<line x1="204.6" y1="47.2" x2="204.6" y2="59.2" stroke="#222" stroke-width="1.2"/>
<line x1="236.4" y1="47.2" x2="236.4" y2="59.2" stroke="#222" stroke-width="1.2"/>
<line x1="268.2" y1="47.2" x2="268.2" y2="59.2" stroke="#222" stroke-width="1.2"/>
<line x1="300" y1="47.2" x2="300" y2="59.2" stroke="#222" stroke-width="1.2"/>
<rect x="172.8" y="47.2" width="159" height="12" fill="none" stroke="#222" stroke-width="1.5" stroke-linejoin="round" rx="1.5"/>
<rect x="172.8" y="65.8" width="31.8" height="12" fill="#b3b3b3"/>
<rect x="204.6" y="65.8" width="31.8" height="12" fill="#9c9cd5"/>
<rect x="236.4" y="65.8" width="31.8" height="12" fill="#6569b5"/>
<rect x="268.2" y="65.8" width="31.8" height="12" fill="#4453a6"/>
<rect x="300" y="65.8" width="31.8" height="12" fill="#364ba0"/>
<line x1="204.6" y1="65.8" x2="204.6" y2="77.8" stroke="#222" stroke-width="1.2"/>
<line x1="236.4" y1="65.8" x2="236.4" y2="77.8" stroke="#222" stroke-width="1.2"/>
<line x1="268.2" y1="65.8" x2="268.2" y2="77.8" stroke="#222" stroke-width="1.2"/>
<line x1="300" y1="65.8" x2="300" y2="77.8" stroke="#222" stroke-width="1.2"/>
<rect x="172.8" y="65.8" width="159" height="12" fill="none" stroke="#222" stroke-width="1.5" stroke-linejoin="round" rx="1.5"/>
<rect x="172.8" y="84.4" width="31.8" height="12" fill="#b3b3b3"/>
<rect x="204.6" y="84.4" width="31.8" height="12" fill="#f8d99a"/>
<rect x="236.4" y="84.4" width="31.8" height="12" fill="#f2c567"/>
<rect x="268.2" y="84.4" width="31.8" height="12" fill="#eeb530"/>
<rect x="300" y="84.4" width="31.8" height="12" fill="#e9a328"/>
<line x1="204.6" y1="84.4" x2="204.6" y2="96.4" stroke="#222" stroke-width="1.2"/>
<line x1="236.4" y1="84.4" x2="236.4" y2="96.4" stroke="#222" stroke-width="1.2"/>
<line x1="268.2" y1="84.4" x2="268.2" y2="96.4" stroke="#222" stroke-width="1.2"/>
<line x1="300" y1="84.4" x2="300" y2="96.4" stroke="#222" stroke-width="1.2"/>
<rect x="172.8" y="84.4" width="159" height="12" fill="none" stroke="#222" stroke-width="1.5" stroke-linejoin="round" rx="1.5"/>
<rect x="172.8" y="103" width="31.8" height="12" fill="#b3b3b3"/>
<rect x="204.6" y="103" width="31.8" height="12" fill="#96d196"/>
<rect x="236.4" y="103" width="31.8" height="12" fill="#63bd66"/>
<rect x="268.2" y="103" width="31.8" height="12" fill="#30ad4d"/>
<rect x="300" y="103" width="31.8" height="12" fill="#179947"/>
<line x1="204.6" y1="103" x2="204.6" y2="115" stroke="#222" stroke-width="1.2"/>
<line x1="236.4" y1="103" x2="236.4" y2="115" stroke="#222" stroke-width="1.2"/>
<line x1="268.2" y1="103" x2="268.2" y2="115" stroke="#222" stroke-width="1.2"/>
<line x1="300" y1="103" x2="300" y2="115" stroke="#222" stroke-width="1.2"/>
<rect x="172.8" y="103" width="159" height="12" fill="none" stroke="#222" stroke-width="1.5" stroke-linejoin="round" rx="1.5"/>
<rect x="172.8" y="121.6" width="31.8" height="12" fill="#b3b3b3"/>
<rect x="204.6" y="121.6" width="31.8" height="12" fill="#f9c3dd"/>
<rect x="236.4" y="121.6" width="31.8" height="12" fill="#f4a6ca"/>
<rect x="268.2" y="121.6" width="31.8" height="12" fill="#f088ba"/>
<rect x="300" y="121.6" width="31.8" height="12" fill="#ea5fa2"/>
<line x1="204.6" y1="121.6" x2="204.6" y2="133.6" stroke="#222" stroke-width="1.2"/>
<line x1="236.4" y1="121.6" x2="236.4" y2="133.6" stroke="#222" stroke-width="1.2"/>
<line x1="268.2" y1="121.6" x2="268.2" y2="133.6" stroke="#222" stroke-width="1.2"/>
<line x1="300" y1="121.6" x2="300" y2="133.6" stroke="#222" stroke-width="1.2"/>
<rect x="172.8" y="121.6" width="159" height="12" fill="none" stroke="#222" stroke-width="1.5" stroke-linejoin="round" rx="1.5"/>
<rect x="172.8" y="140.2" width="31.8" height="12" fill="#b3b3b3"/>
<rect x="204.6" y="140.2" width="31.8" height="12" fill="#d2b1d9"/>
<rect x="236.4" y="140.2" width="31.8" height="12" fill="#b58dc5"/>
<rect x="268.2" y="140.2" width="31.8" height="12" fill="#9667b1"/>
<rect x="300" y="140.2" width="31.8" height="12" fill="#804ea0"/>
<line x1="204.6" y1="140.2" x2="204.6" y2="152.2" stroke="#222" stroke-width="1.2"/>
<line x1="236.4" y1="140.2" x2="236.4" y2="152.2" stroke="#222" stroke-width="1.2"/>
<line x1="268.2" y1="140.2" x2="268.2" y2="152.2" stroke="#222" stroke-width="1.2"/>
<line x1="300" y1="140.2" x2="300" y2="152.2" stroke="#222" stroke-width="1.2"/>
<rect x="172.8" y="140.2" width="159" height="12" fill="none" stroke="#222" stroke-width="1.5" stroke-linejoin="round" rx="1.5"/>
<rect x="172.8" y="158.8" width="31.8" height="12" fill="#b3b3b3"/>
<rect x="204.6" y="158.8" width="31.8" height="12" fill="#a7e0e9"/>
<rect x="236.4" y="158.8" width="31.8" height="12" fill="#86d4e1"/>
<rect x="268.2" y="158.8" width="31.8" height="12" fill="#63c9d9"/>
<rect x="300" y="158.8" width="31.8" height="12" fill="#4fc3d3"/>
<line x1="204.6" y1="158.8" x2="204.6" y2="170.8" stroke="#222" stroke-width="1.2"/>
<line x1="236.4" y1="158.8" x2="236.4" y2="170.8" stroke="#222" stroke-width="1.2"/>
<line x1="268.2" y1="158.8" x2="268.2" y2="170.8" stroke="#222" stroke-width="1.2"/>
<line x1="300" y1="158.8" x2="300" y2="170.8" stroke="#222" stroke-width="1.2"/>
<rect x="172.8" y="158.8" width="159" height="12" fill="none" stroke="#222" stroke-width="1.5" stroke-linejoin="round" rx="1.5"/>
<rect x="172.8" y="177.4" width="31.8" height="12" fill="#b3b3b3"/>
<rect x="204.6" y="177.4" width="31.8" height="12" fill="#f4e693"/>
<rect x="236.4" y="177.4" width="31.8" height="12" fill="#e8d362"/>
<rect x="268.2" y="177.4" width="31.8" height="12" fill="#dfc32d"/>
<rect x="300" y="177.4" width="31.8" height="12" fill="#d4b32c"/>
<line x1="204.6" y1="177.4" x2="204.6" y2="189.4" stroke="#222" stroke-width="1.2"/>
<line x1="236.4" y1="177.4" x2="236.4" y2="189.4" stroke="#222" stroke-width="1.2"/>
<line x1="268.2" y1="177.4" x2="268.2" y2="189.4" stroke="#222" stroke-width="1.2"/>
<line x1="300" y1="177.4" x2="300" y2="189.4" stroke="#222" stroke-width="1.2"/>
<rect x="172.8" y="177.4" width="159" height="12" fill="none" stroke="#222" stroke-width="1.5" stroke-linejoin="round" rx="1.5"/>
<rect x="172.8" y="196" width="31.8" height="12" fill="#b3b3b3"/>
<rect x="204.6" y="196" width="31.8" height="12" fill="#dacbbc"/>
<rect x="236.4" y="196" width="31.8" height="12" fill="#c0af99"/>
<rect x="268.2" y="196" width="31.8" height="12" fill="#a69079"/>
<rect x="300" y="196" width="31.8" height="12" fill="#8a6d51"/>
<line x1="204.6" y1="196" x2="204.6" y2="208" stroke="#222" stroke-width="1.2"/>
<line x1="236.4" y1="196" x2="236.4" y2="208" stroke="#222" stroke-width="1.2"/>
<line x1="268.2" y1="196" x2="268.2" y2="208" stroke="#222" stroke-width="1.2"/>
<line x1="300" y1="196" x2="300" y2="208" stroke="#222" stroke-width="1.2"/>
<rect x="172.8" y="196" width="159" height="12" fill="none" stroke="#222" stroke-width="1.5" stroke-linejoin="round" rx="1.5"/>
<circle cx="354.7" cy="53.6" r="4.2" fill="#e8383b"/>
<text x="364" y="57.6" style="font-size:15.35px;" text-anchor="start" fill="#2a2a2a" stroke="#2a2a2a" stroke-width="0.3">rs2237897</text>
<polygon points="354.7,64.5 349.2,74 360.2,74" fill="#364ba0"/>
<text x="364" y="75.4" style="font-size:15.35px;" text-anchor="start" fill="#2a2a2a" stroke="#2a2a2a" stroke-width="0.3">rs79748283</text>
<rect x="350.4" y="85.2" width="8.5" height="8.5" fill="#e9a328"/>
<text x="364" y="95.4" style="font-size:15.35px;" text-anchor="start" fill="#2a2a2a" stroke="#2a2a2a" stroke-width="0.3">rs234866</text>
<polygon points="354.7,114.3 349.2,104.8 360.2,104.8" fill="#179947"/>
<text x="364" y="113.4" style="font-size:15.35px;" text-anchor="start" fill="#2a2a2a" stroke="#2a2a2a" stroke-width="0.3">rs7925578</text>
<path d="M350.4 120.8h8.5v8.5h-8.5zM354.7 120.8v8.5M350.4 125.1h8.5" fill="none" stroke="#f088ba" stroke-width="1.1"/>
<text x="364" y="130.1" style="font-size:15.35px;" text-anchor="start" fill="#2a2a2a" stroke="#2a2a2a" stroke-width="0.3">rs3085903</text>
<path d="M350.4 142.2h8.5v8.5h-8.5zM350.4 142.2L358.9 150.7M358.9 142.2L350.4 150.7" fill="none" stroke="#804ea0" stroke-width="1.1"/>
<text x="364" y="151.4" style="font-size:15.35px;" text-anchor="start" fill="#2a2a2a" stroke="#2a2a2a" stroke-width="0.3">rs557925996</text>
<path d="M350.1 164.7a4.6 4.6 0 1 0 9.2 0a4.6 4.6 0 1 0 -9.2 0M351.4 161.4L358 168M358 161.4L351.4 168" fill="none" stroke="#4fc3d3" stroke-width="1.1"/>
<text x="364" y="169.7" style="font-size:15.35px;" text-anchor="start" fill="#2a2a2a" stroke="#2a2a2a" stroke-width="0.3">rs76868685</text>
<path d="M349.2 182.9h11M354.7 177.4v11M350.7 178.9L358.7 186.9M358.7 178.9L350.7 186.9" fill="none" stroke="#dfc32d" stroke-width="1.3"/>
<text x="364" y="187.9" style="font-size:15.35px;" text-anchor="start" fill="#2a2a2a" stroke="#2a2a2a" stroke-width="0.3">rs61509816</text>
<path d="M355.7 195.6L362.7 202.6L355.7 209.6L348.7 202.6zM355.7 195.6v14M348.7 202.6h14" fill="none" stroke="#8a6d51" stroke-width="1.3"/>
<text x="367.4" y="206.6" style="font-size:15.35px;" text-anchor="start" fill="#2a2a2a" stroke="#2a2a2a" stroke-width="0.3">rs138205568</text>
<rect x="83.3" y="544" width="836.2" height="67.6" fill="none" stroke="#707070" stroke-width="1.5" stroke-linejoin="round"/>
<path d="M103.4 556.8H88.6M94.6 553.8L88.6 556.8L94.6 559.8" fill="none" stroke="#111" stroke-width="1.1" stroke-linejoin="round"/>
<text x="106.3" y="561.8" style="font-size:14.3px;font-style:italic" fill="#111" stroke="#111" stroke-width="0.25">MRPL23–AS1</text>
<path d="M229.1 556.8H214.3M220.3 553.8L214.3 556.8L220.3 559.8" fill="none" stroke="#111" stroke-width="1.1" stroke-linejoin="round"/>
<text x="232" y="561.8" style="font-size:14.3px;font-style:italic" fill="#111" stroke="#111" stroke-width="0.25">INS</text>
<path d="M308.5 556.8H293.7M299.7 553.8L293.7 556.8L299.7 559.8" fill="none" stroke="#111" stroke-width="1.1" stroke-linejoin="round"/>
<text x="311.4" y="561.8" style="font-size:14.3px;font-style:italic" fill="#111" stroke="#111" stroke-width="0.25">ASCL2</text>
<text x="399.3" y="561.8" style="font-size:14.3px;font-style:italic" fill="#111" stroke="#111" stroke-width="0.25">CD81</text>
<path d="M436.9 556.8H451.6M445.6 553.8L451.6 556.8L445.6 559.8" fill="none" stroke="#111" stroke-width="1.1" stroke-linejoin="round"/>
<text x="610.2" y="561.8" style="font-size:14.3px;font-style:italic" fill="#111" stroke="#111" stroke-width="0.25">KCNQ1</text>
<path d="M660.5 556.8H675.2M669.2 553.8L675.2 556.8L669.2 559.8" fill="none" stroke="#111" stroke-width="1.1" stroke-linejoin="round"/>
<path d="M855 556.8H840.2M846.2 553.8L840.2 556.8L846.2 559.8" fill="none" stroke="#111" stroke-width="1.1" stroke-linejoin="round"/>
<text x="857.9" y="561.8" style="font-size:14.3px;font-style:italic" fill="#111" stroke="#111" stroke-width="0.25">PHLDA2</text>
<text x="91.2" y="595.4" style="font-size:14.3px;font-style:italic" fill="#111" stroke="#111" stroke-width="0.25">LINC01219</text>
<path d="M164.5 590.4H179.2M173.2 587.4L179.2 590.4L173.2 593.4" fill="none" stroke="#111" stroke-width="1.1" stroke-linejoin="round"/>
<path d="M207.4 590.4H192.6M198.6 587.4L192.6 590.4L198.6 593.4" fill="none" stroke="#111" stroke-width="1.1" stroke-linejoin="round"/>
<text x="210.3" y="595.4" style="font-size:14.3px;font-style:italic" fill="#111" stroke="#111" stroke-width="0.25">IGF2</text>
<path d="M327.4 590.4H312.6M318.6 587.4L312.6 590.4L318.6 593.4" fill="none" stroke="#111" stroke-width="1.1" stroke-linejoin="round"/>
<text x="330.3" y="595.4" style="font-size:14.3px;font-style:italic" fill="#111" stroke="#111" stroke-width="0.25">C11orf21</text>
<text x="408.8" y="595.4" style="font-size:14.3px;font-style:italic" fill="#111" stroke="#111" stroke-width="0.25">TSSC4</text>
<path d="M455.9 590.4H470.6M464.6 587.4L470.6 590.4L464.6 593.4" fill="none" stroke="#111" stroke-width="1.1" stroke-linejoin="round"/>
<path d="M615 590.4H600.2M606.2 587.4L600.2 590.4L606.2 593.4" fill="none" stroke="#111" stroke-width="1.1" stroke-linejoin="round"/>
<text x="617.9" y="595.4" style="font-size:14.3px;font-style:italic" fill="#111" stroke="#111" stroke-width="0.25">KCNQ1OT1</text>
<path d="M775.3 590.4H760.5M766.5 587.4L760.5 590.4L766.5 593.4" fill="none" stroke="#111" stroke-width="1.1" stroke-linejoin="round"/>
<text x="778.2" y="595.4" style="font-size:14.3px;font-style:italic" fill="#111" stroke="#111" stroke-width="0.25">KCNQ1–AS1</text>
<line x1="87.7" y1="568" x2="93.6" y2="568" stroke="#232a7a" stroke-width="1.1"/>
<line x1="87.7" y1="565.6" x2="87.7" y2="571" stroke="#232a7a" stroke-width="1.7"/>
<line x1="93.6" y1="565.6" x2="93.6" y2="571" stroke="#232a7a" stroke-width="1.7"/>
<rect x="87.7" y="565.2" width="1.8" height="5.5" fill="#232a7a"/>
<rect x="234.8" y="565.2" width="1.8" height="5.6" fill="#232a7a"/>
<rect x="325.6" y="565.2" width="1.8" height="5.6" fill="#232a7a"/>
<line x1="415.7" y1="568" x2="433" y2="568" stroke="#232a7a" stroke-width="1.1"/>
<line x1="415.7" y1="565.6" x2="415.7" y2="571" stroke="#232a7a" stroke-width="1.7"/>
<line x1="427" y1="565.6" x2="427" y2="571" stroke="#232a7a" stroke-width="1.7"/>
<rect x="430" y="565.2" width="3" height="5.5" fill="#232a7a"/>
<line x1="473.2" y1="568" x2="811.4" y2="568" stroke="#232a7a" stroke-width="1.1"/>
<line x1="473.2" y1="565.6" x2="473.2" y2="571" stroke="#232a7a" stroke-width="1.7"/>
<line x1="487.3" y1="565.6" x2="487.3" y2="571" stroke="#232a7a" stroke-width="1.7"/>
<line x1="542.2" y1="565.6" x2="542.2" y2="571" stroke="#232a7a" stroke-width="1.7"/>
<line x1="589.4" y1="565.6" x2="589.4" y2="571" stroke="#232a7a" stroke-width="1.7"/>
<line x1="592.5" y1="565.6" x2="592.5" y2="571" stroke="#232a7a" stroke-width="1.7"/>
<line x1="654.5" y1="565.6" x2="654.5" y2="571" stroke="#232a7a" stroke-width="1.7"/>
<line x1="743.7" y1="565.6" x2="743.7" y2="571" stroke="#232a7a" stroke-width="1.7"/>
<line x1="811.4" y1="565.6" x2="811.4" y2="571" stroke="#232a7a" stroke-width="1.7"/>
<rect x="577.6" y="565.2" width="1.6" height="5.5" fill="#232a7a"/>
<rect x="750" y="565.2" width="2" height="5.5" fill="#232a7a"/>
<rect x="876.4" y="565.2" width="1.8" height="5.6" fill="#232a7a"/>
<rect x="93.6" y="598.7" width="1.8" height="5.6" fill="#232a7a"/>
<line x1="209" y1="601.5" x2="227" y2="601.5" stroke="#232a7a" stroke-width="1.1"/>
<line x1="221" y1="599.1" x2="221" y2="604.5" stroke="#232a7a" stroke-width="1.7"/>
<line x1="227" y1="599.1" x2="227" y2="604.5" stroke="#232a7a" stroke-width="1.7"/>
<rect x="209" y="598.8" width="8" height="5.5" fill="#232a7a"/>
<rect x="348.5" y="598.7" width="6.2" height="5.6" fill="#232a7a"/>
<rect x="436" y="598.7" width="2.2" height="5.6" fill="#232a7a"/>
<rect x="609.3" y="598.2" width="77.1" height="6.4" fill="#232a7a"/>
<line x1="803.2" y1="601.5" x2="821.3" y2="601.5" stroke="#232a7a" stroke-width="1.1"/>
<line x1="803.2" y1="599.1" x2="803.2" y2="604.5" stroke="#232a7a" stroke-width="1.7"/>
<line x1="821.3" y1="599.1" x2="821.3" y2="604.5" stroke="#232a7a" stroke-width="1.7"/>
<rect x="803.2" y="598.8" width="1.8" height="5.5" fill="#232a7a"/>
<rect x="819.5" y="598.8" width="1.8" height="5.5" fill="#232a7a"/>
<text x="939.8" y="571" style="font-size:17.2px;" text-anchor="start" fill="#444444" stroke="#444444" stroke-width="0.3">17 genes</text>
<text x="939.8" y="596.8" style="font-size:17.2px;" text-anchor="start" fill="#444444" stroke="#444444" stroke-width="0.3">omitted</text>
<line x1="83.3" y1="611.6" x2="83.3" y2="622.6" stroke="#707070" stroke-width="1.4"/>
<text x="83.3" y="649.4" style="font-size:17px;" text-anchor="middle" fill="#444444" stroke="#444444" stroke-width="0.3">2</text>
<line x1="250.6" y1="611.6" x2="250.6" y2="622.6" stroke="#707070" stroke-width="1.4"/>
<text x="250.6" y="649.4" style="font-size:17px;" text-anchor="middle" fill="#444444" stroke="#444444" stroke-width="0.3">2.2</text>
<line x1="417.9" y1="611.6" x2="417.9" y2="622.6" stroke="#707070" stroke-width="1.4"/>
<text x="417.9" y="649.4" style="font-size:17px;" text-anchor="middle" fill="#444444" stroke="#444444" stroke-width="0.3">2.4</text>
<line x1="585.2" y1="611.6" x2="585.2" y2="622.6" stroke="#707070" stroke-width="1.4"/>
<text x="585.2" y="649.4" style="font-size:17px;" text-anchor="middle" fill="#444444" stroke="#444444" stroke-width="0.3">2.6</text>
<line x1="752.5" y1="611.6" x2="752.5" y2="622.6" stroke="#707070" stroke-width="1.4"/>
<text x="752.5" y="649.4" style="font-size:17px;" text-anchor="middle" fill="#444444" stroke="#444444" stroke-width="0.3">2.8</text>
<line x1="919.8" y1="611.6" x2="919.8" y2="622.6" stroke="#707070" stroke-width="1.4"/>
<text x="919.8" y="649.4" style="font-size:17px;" text-anchor="middle" fill="#444444" stroke="#444444" stroke-width="0.3">3</text>
<text x="501.4" y="673.8" style="font-size:17.3px;" text-anchor="middle" fill="#444444" stroke="#444444" stroke-width="0.3">Position on chr11 (Mb)</text>
<polyline points="80,1196 219.9,1196 220.4,1182.4 221,1182.4 221.5,1196 292.3,1196 292.8,1180 293.3,921 294.3,919.8 296.5,919.8 297.5,921 298.5,1180 299.2,1196 314.6,1196 315,1180 315.4,861 316.3,860 317.8,860 318.6,861 319.4,1180 319.8,1196 422.5,1196 423,1180 423.6,971 424.8,969.7 427.8,969.7 428.8,971 429.8,1172 432,1180 437,1185 441,1186 444.5,1189 445,1196 485.4,1196 486.4,1007 487,1007 488,1196 634.5,1196 636.2,1150 637.4,1146.8 638.6,1150 640.5,1196 706,1196 706.7,1172.8 707.3,1172.8 708,1196 736,1196 736.7,1171.4 737.3,1171.4 738,1196 789.5,1196 790.2,1142 790.8,1142 791.5,1196 917,1196" fill="none" stroke="#5060b8" stroke-width="1.5" stroke-linejoin="round"/>
<polygon points="77,1192.8 78.4,1189.3 81,1191.7 83.4,1191.4 85,1190.7 87.6,1193 89.9,1190.8 91.3,1189.1 93.2,1190.5 95.4,1191.2 96.8,1190.3 99,1193 100.6,1192.6 103.2,1192.6 105.9,1190.4 109,1189.6 111.5,1190.8 113.7,1192.7 116.5,1190.4 119.4,1190.8 122.3,1191.9 124.1,1190.3 125.7,1192.6 128.6,1190.2 131.2,1191 133.6,1191.4 135.3,1191 137.7,1189.3 140.3,1192.6 142.9,1189.2 144.8,1189.9 146.3,1191.1 148,1189.8 150.1,1191.9 152,1189.7 153.5,1192.8 156.1,1189.1 158.9,1189.6 161.4,1190.5 164.5,1189.6 166.4,1191.5 167.9,1190.3 170,1192.1 172.9,1192 175.5,1190.9 178,1190.3 180.1,1192.5 182.4,1190.6 184,1192.8 186.4,1190.7 188.7,1189.6 190.1,1189.6 192.5,1191 195.5,1193 197.6,1190 200,1192.2 201.8,1190.7 203.1,1189.1 204.6,1191.9 206.1,1189.7 207.8,1191.1 209.7,1191.6 212.6,1192.9 214.7,1191 216.1,1190.7 217.7,1189.4 219.7,1191.1 222.1,1190.2 224,1189.1 225.5,1190.2 228,1189.1 230.1,1190.9 232.4,1189.3 234.4,1192.7 237.1,1189.8 239.1,1190.9 241.1,1189.5 242.6,1192.4 245.6,1191.8 248,1192.1 250.2,1190.4 253,1190.1 255.1,1192.8 258.1,1192.3 259.8,1191 261.9,1191.7 264.2,1192.3 266.2,1193 268.2,1189.3 271.1,1193 272.7,1190.2 275.2,1191.7 277.4,1189.4 280.4,1192 282.6,1191.9 285.5,1190.8 287.6,1193 289.9,1189.6 291.3,1191.4 292.9,1191 294.9,1191.8 297.5,1190.9 299.4,1192 302.1,1192.4 304.5,1190.6 307.5,1191.5 309.7,1191.8 312.1,1192.3 315.1,1191.9 318,1192.5 320.8,1192.1 323.4,1191.3 326.1,1189.6 328.2,1190 330.4,1189.8 331.8,1189 334.6,1191.6 336.8,1191.7 338.6,1191 340,1192 342.7,1192.1 345.2,1192.1 346.7,1189.7 348.9,1190.2 351.2,1192.9 353.4,1190.5 356.3,1190.2 358.5,1191.2 359.9,1192.3 362.4,1192.2 364.4,1192.4 366.8,1190.6 369.6,1192.2 371.5,1189.9 373.2,1190.1 374.7,1192.3 376.7,1190.3 378.8,1189.7 380.7,1192.6 382.8,1191.6 384.7,1189.4 386.3,1191.7 388.3,1192.2 391,1191.5 393.8,1190.4 396.7,1191 399.7,1192 402.6,1192.7 405.6,1190.2 408.1,1190.5 409.7,1192.8 411.9,1192.6 414.9,1189.5 416.8,1190.4 419.7,1192 422,1189.9 424,1190.1 425.6,1190.3 427.1,1189.6 428.8,1190.7 430.8,1190 433.1,1190.3 435.8,1189.2 438.6,1190.7 440.2,1191.1 442.1,1192.1 444.1,1193 446.3,1191.5 449.1,1191.4 451.3,1192.9 454.1,1190.8 456.4,1189.2 459.4,1189.5 462,1192.7 463.8,1192.2 465.3,1190.4 466.9,1191.7 469.9,1191.6 472.8,1190 475.1,1189.6 476.6,1189.8 479.3,1191.1 482.2,1189.6 483.7,1189.5 485.4,1189.2 487.4,1191.5 490.3,1191.9 493.3,1189.7 496,1191.5 498,1190.2 500.1,1190.6 502.8,1191.2 504.7,1192.1 506.4,1191.8 508.9,1189.1 510.5,1189.8 513,1191.5 515.5,1190.9 518.2,1192.3 520.6,1189.2 522.1,1191.5 523.8,1192.8 526.7,1190.9 528.3,1192.3 530.2,1192.6 532.2,1190.7 534.3,1191.6 536.9,1190.1 538.6,1190.3 540.6,1191.1 542.3,1192.1 545,1190.8 546.9,1190.9 548.6,1190.9 550.7,1191.3 552.3,1191.4 554,1191.5 556.9,1191.7 558.6,1192.3 559.9,1192.5 561.8,1190.3 564.4,1190.4 566.5,1192.3 568.8,1189.5 571.2,1190.5 573.5,1192.7 575.7,1192.2 577.3,1190.2 580.3,1189.8 583.1,1191.4 585.4,1189.9 586.8,1191.7 589.2,1190.6 592.2,1190.6 594.2,1189.9 596.5,1192.3 599.5,1191.7 602,1190.6 603.5,1191 606.2,1191.3 608.8,1189.9 611,1189.5 612.9,1191.2 615.3,1192.8 617.7,1189.3 619.7,1189.6 622.2,1190.9 624.2,1190.4 626.6,1189.4 628.5,1192.8 631.3,1192.6 634.3,1189.1 637.1,1189 640.1,1191.9 641.6,1191.2 643.7,1190.7 645.3,1189.2 648.3,1192.3 650.2,1192.6 651.9,1192.2 653.9,1192.6 656.3,1189.3 658,1189 660.2,1190.1 661.6,1191.1 663.6,1192.7 665.7,1190.8 668.7,1191.3 670.8,1190.7 673.5,1191.6 675.9,1189.5 677.3,1191.8 679.7,1191.3 681.8,1190.9 683.6,1189.9 686.6,1192.3 688,1190.2 691,1191.2 693.5,1190 695.5,1192.4 698,1191.2 700.1,1192.8 702.2,1191 704.8,1191.6 706.3,1191.4 708.4,1192.9 710.4,1191.5 713,1190.5 714.9,1189.6 717.4,1190.6 720.4,1192.2 723.4,1191.3 725.8,1192.1 728.3,1191.7 729.7,1190.8 732.7,1190.4 735.3,1189.7 737.2,1189.3 739.2,1192.7 740.7,1189.1 742.9,1191.9 744.8,1190.9 747.8,1192.5 750.2,1189.9 751.8,1190.2 754.1,1191.9 755.9,1191 757.7,1192.4 759.3,1190 761.9,1189.9 763.6,1192.5 765.8,1189.6 768,1190.4 769.7,1191.8 772.5,1191.5 774,1189.8 775.3,1189.3 777,1189.7 779.8,1189 781.7,1191.3 783.2,1192.8 785.9,1192.5 788.9,1189.3 791.1,1189.3 793.4,1192.2 794.7,1192.6 796.8,1189.5 798.9,1189.8 800.8,1192.1 802.6,1191.5 805.3,1191.6 806.9,1192.7 808.4,1189.4 810.6,1192.7 813.6,1191.5 816.6,1191.9 818.9,1189.1 821.4,1191.9 824,1189.5 827.1,1191.7 828.9,1189.3 831.9,1189.5 834.8,1190.4 836.4,1190.2 839.3,1191.1 842.2,1191.3 843.9,1190.3 845.6,1190.7 848.1,1192.3 851,1191.6 852.7,1192.8 854.1,1191.7 856.1,1192.1 857.9,1191.2 859.4,1192.3 861,1191.6 863.6,1191.1 865.8,1190 867.8,1189.4 869.8,1190.6 872.4,1190 874.3,1189.9 877.3,1192.7 878.9,1189.6 880.8,1190.7 882.8,1191.8 884.5,1189 886.5,1190.3 888.3,1190.1 890,1191.1 891.9,1190.7 894.7,1192.1 896.3,1192.2 898.6,1191.1 900.5,1189.3 903.5,1192.5 905,1192.4 907.1,1191.6 908.8,1192.3 911.9,1190.7 914.7,1191 916.3,1189.3 917.9,1191.1 920.4,1189.9 921.8,1191.2 921.8,1210 920.4,1209.6 917.9,1209.5 916.3,1209.7 914.7,1210 911.9,1210.2 908.8,1209.5 907.1,1207.6 905,1208.7 903.5,1208.6 900.5,1207.1 898.6,1208.9 896.3,1208 894.7,1210.3 891.9,1208.6 890,1209.7 888.3,1207.9 886.5,1207.6 884.5,1209.6 882.8,1209.8 880.8,1207.1 878.9,1207.4 877.3,1209.8 874.3,1207.5 872.4,1208.9 869.8,1208.9 867.8,1207.8 865.8,1208.6 863.6,1208.1 861,1209.1 859.4,1209.4 857.9,1210 856.1,1207.8 854.1,1208.3 852.7,1209.2 851,1208.2 848.1,1208.2 845.6,1208.4 843.9,1207.4 842.2,1209.6 839.3,1207.4 836.4,1208.9 834.8,1209.8 831.9,1209.7 828.9,1209.1 827.1,1208.6 824,1209.5 821.4,1209.9 818.9,1207.2 816.6,1207.7 813.6,1208.2 810.6,1210.2 808.4,1209.6 806.9,1207.2 805.3,1209.8 802.6,1209.1 800.8,1207.6 798.9,1207.2 796.8,1209 794.7,1207.8 793.4,1208 791.1,1209.7 788.9,1207.6 785.9,1208.6 783.2,1207.7 781.7,1208.6 779.8,1209.9 777,1208.4 775.3,1209.6 774,1209.4 772.5,1209.6 769.7,1210.1 768,1207.7 765.8,1208.4 763.6,1209 761.9,1209 759.3,1209.7 757.7,1210.2 755.9,1208.9 754.1,1208.6 751.8,1209.8 750.2,1209.1 747.8,1209.1 744.8,1210 742.9,1207.3 740.7,1207.2 739.2,1208.5 737.2,1209 735.3,1209.8 732.7,1209 729.7,1207.5 728.3,1208.4 725.8,1210 723.4,1208.4 720.4,1208.4 717.4,1208.7 714.9,1209.2 713,1209.7 710.4,1209.6 708.4,1210.2 706.3,1209.1 704.8,1210.2 702.2,1210 700.1,1209.5 698,1208.8 695.5,1208.6 693.5,1209.4 691,1208.9 688,1209.8 686.6,1209.1 683.6,1209.5 681.8,1208.5 679.7,1207.9 677.3,1210.2 675.9,1208.2 673.5,1207.6 670.8,1210.1 668.7,1208.8 665.7,1208.3 663.6,1207.5 661.6,1208.8 660.2,1209.2 658,1208.4 656.3,1207.8 653.9,1207.5 651.9,1210 650.2,1207.2 648.3,1209.3 645.3,1209 643.7,1209.6 641.6,1209.1 640.1,1209.9 637.1,1209.3 634.3,1208.2 631.3,1208.7 628.5,1209.1 626.6,1209.6 624.2,1210.1 622.2,1210.1 619.7,1208.1 617.7,1209.2 615.3,1207.4 612.9,1209.1 611,1207.6 608.8,1207.2 606.2,1209.4 603.5,1208.8 602,1208.7 599.5,1207.3 596.5,1207.4 594.2,1207.8 592.2,1208.6 589.2,1208.5 586.8,1207.5 585.4,1207.8 583.1,1209.3 580.3,1209.4 577.3,1210.2 575.7,1210 573.5,1209.2 571.2,1207.3 568.8,1207.6 566.5,1207.2 564.4,1208.5 561.8,1207.9 559.9,1207.7 558.6,1208.1 556.9,1208.1 554,1209.2 552.3,1209.9 550.7,1208.1 548.6,1207.7 546.9,1207.9 545,1208.6 542.3,1209.3 540.6,1210.1 538.6,1208.8 536.9,1210 534.3,1207.5 532.2,1209.4 530.2,1208.9 528.3,1209.3 526.7,1208 523.8,1210.2 522.1,1208.8 520.6,1207.7 518.2,1209.8 515.5,1207.3 513,1209.5 510.5,1209 508.9,1208.9 506.4,1209.3 504.7,1210.3 502.8,1208.6 500.1,1209.7 498,1208.5 496,1207.8 493.3,1207.4 490.3,1208.7 487.4,1209.8 485.4,1207.8 483.7,1207.4 482.2,1208.7 479.3,1209.3 476.6,1210 475.1,1208.7 472.8,1208.6 469.9,1207.3 466.9,1207.4 465.3,1207.7 463.8,1207.1 462,1207.3 459.4,1210.1 456.4,1207.4 454.1,1208.4 451.3,1210.3 449.1,1209 446.3,1208.1 444.1,1208.4 442.1,1209.1 440.2,1209.8 438.6,1209.6 435.8,1207.6 433.1,1208.3 430.8,1207.9 428.8,1207.9 427.1,1207.8 425.6,1210.1 424,1209.1 422,1209.8 419.7,1208.5 416.8,1210 414.9,1207.2 411.9,1207.7 409.7,1208.2 408.1,1208.4 405.6,1209.1 402.6,1209.5 399.7,1209.5 396.7,1209.3 393.8,1209.9 391,1208.4 388.3,1207.8 386.3,1208.3 384.7,1207.9 382.8,1210.1 380.7,1210 378.8,1208.5 376.7,1207.3 374.7,1208.3 373.2,1210.2 371.5,1208.6 369.6,1209.1 366.8,1208.8 364.4,1207.4 362.4,1209.2 359.9,1208.1 358.5,1210 356.3,1209.2 353.4,1208.5 351.2,1208.3 348.9,1207.1 346.7,1208.3 345.2,1209.9 342.7,1208.4 340,1207.7 338.6,1207.2 336.8,1208.2 334.6,1209.5 331.8,1208.7 330.4,1210.2 328.2,1208.9 326.1,1209.1 323.4,1207.7 320.8,1207.7 318,1207.4 315.1,1209 312.1,1207.2 309.7,1209.9 307.5,1207.1 304.5,1209.2 302.1,1207.8 299.4,1209.2 297.5,1210.2 294.9,1210.1 292.9,1208.6 291.3,1209.9 289.9,1208.5 287.6,1209.6 285.5,1209.4 282.6,1207.9 280.4,1207.4 277.4,1208.8 275.2,1208.5 272.7,1207.8 271.1,1209.2 268.2,1207.4 266.2,1207.6 264.2,1207.4 261.9,1210 259.8,1207.9 258.1,1208 255.1,1209.7 253,1208.8 250.2,1208.6 248,1209.4 245.6,1207.2 242.6,1209.2 241.1,1207.5 239.1,1209.5 237.1,1208.9 234.4,1207.3 232.4,1208 230.1,1207.8 228,1208.5 225.5,1209.8 224,1209.3 222.1,1210.2 219.7,1210 217.7,1209.7 216.1,1208.8 214.7,1209 212.6,1209.4 209.7,1207.8 207.8,1208.6 206.1,1207.8 204.6,1207.9 203.1,1208.4 201.8,1208.8 200,1209.4 197.6,1209 195.5,1207.8 192.5,1210.2 190.1,1207.4 188.7,1207.3 186.4,1207.2 184,1207.9 182.4,1208.7 180.1,1207.5 178,1207.4 175.5,1207.8 172.9,1209.9 170,1209.5 167.9,1207.2 166.4,1209.5 164.5,1207.2 161.4,1207.2 158.9,1207.7 156.1,1207.9 153.5,1207.2 152,1209.3 150.1,1207.2 148,1209.9 146.3,1209.8 144.8,1209.9 142.9,1209.2 140.3,1207.7 137.7,1209.7 135.3,1210.1 133.6,1208.1 131.2,1208.8 128.6,1210.2 125.7,1208 124.1,1209.3 122.3,1208.7 119.4,1208.9 116.5,1209.9 113.7,1208.7 111.5,1208.8 109,1209.5 105.9,1210.2 103.2,1209.5 100.6,1209.6 99,1209.3 96.8,1207.5 95.4,1207.9 93.2,1210 91.3,1208.6 89.9,1208 87.6,1210.1 85,1208.4 83.4,1209 81,1208.1 78.4,1209.8 77,1210.1" fill="#b3b3b3"/>
<polygon points="275,1192 280,1186 288,1183 292,1180 300,1176 306,1170 312,1167.5 318,1166 322,1170 324,1178 330,1184 335,1190 275,1195" fill="#b3b3b3"/>
<circle cx="317.5" cy="1170" r="5.5" fill="#b3b3b3"/>
<circle cx="313" cy="1176" r="5.5" fill="#b3b3b3"/>
<path d="M97.1 1179.1a6 6 0 1 0 12 0a6 6 0 1 0 -12 0M98.8 1174.8L107.4 1183.4M107.4 1174.8L98.8 1183.4" fill="none" stroke="#b3b3b3" stroke-width="1.5"/>
<path d="M87.4 1182.4a6 6 0 1 0 12 0a6 6 0 1 0 -12 0M89.1 1178.1L97.7 1186.7M97.7 1178.1L89.1 1186.7" fill="none" stroke="#b3b3b3" stroke-width="1.5"/>
<path d="M236.3 1184.5a6 6 0 1 0 12 0a6 6 0 1 0 -12 0M238 1180.2L246.6 1188.8M246.6 1180.2L238 1188.8" fill="none" stroke="#b3b3b3" stroke-width="1.5"/>
<path d="M79 1184a6 6 0 1 0 12 0a6 6 0 1 0 -12 0M80.7 1179.7L89.3 1188.3M89.3 1179.7L80.7 1188.3" fill="none" stroke="#b3b3b3" stroke-width="1.5"/>
<path d="M108.9 1185L118.9 1195M118.9 1185L108.9 1195" fill="none" stroke="#b3b3b3" stroke-width="1.6"/>
<path d="M200 1184L210 1194M210 1184L200 1194" fill="none" stroke="#b3b3b3" stroke-width="1.6"/>
<path d="M133.2 1183.4h11v11h-11zM133.2 1183.4L144.2 1194.4M144.2 1183.4L133.2 1194.4" fill="none" stroke="#b3b3b3" stroke-width="1.6"/>
<path d="M194.5 1182.5h11v11h-11zM194.5 1182.5L205.5 1193.5M205.5 1182.5L194.5 1193.5" fill="none" stroke="#b3b3b3" stroke-width="1.6"/>
<polygon points="235.8,1176.4 229.3,1187.7 242.3,1187.7" fill="#b3b3b3"/>
<circle cx="255.9" cy="1183.5" r="6" fill="#b3b3b3"/>
<polygon points="275,1180.6 269,1190.9 281,1190.9" fill="#b3b3b3"/>
<polygon points="160,1183.6 154,1193.9 166,1193.9" fill="#b3b3b3"/>
<path d="M323.1 1175.6h10v10h-10zM328.1 1175.6v10M323.1 1180.6h10" fill="none" stroke="#b3b3b3" stroke-width="1.6"/>
<path d="M332 1178h10v10h-10zM337 1178v10M332 1183h10" fill="none" stroke="#b3b3b3" stroke-width="1.6"/>
<path d="M382 1173.1h10v10h-10zM387 1173.1v10M382 1178.1h10" fill="none" stroke="#b3b3b3" stroke-width="1.6"/>
<path d="M412.4 1178.4h10v10h-10zM417.4 1178.4v10M412.4 1183.4h10" fill="none" stroke="#b3b3b3" stroke-width="1.6"/>
<path d="M357 1182h10v10h-10zM362 1182v10M357 1187h10" fill="none" stroke="#b3b3b3" stroke-width="1.6"/>
<polygon points="365.4,1190 358.9,1178.7 371.9,1178.7" fill="#b3b3b3"/>
<polygon points="430,1190 440,1186 460,1184.5 500,1184 560,1184 620,1184.5 700,1186.5 760,1187 800,1187 860,1187.5 900,1188 923,1188 923,1195 430,1195" fill="#b3b3b3"/>
<rect x="747" y="1184.5" width="10" height="4" fill="#b3b3b3"/>
<rect x="825" y="1184.5" width="12" height="4" fill="#b3b3b3"/>
<rect x="865" y="1185" width="9" height="4" fill="#b3b3b3"/>
<rect x="560" y="1182" width="10" height="4" fill="#b3b3b3"/>
<rect x="476.7" y="1182" width="60.5" height="14.7" fill="#f2c567"/>
<rect x="544" y="1184" width="50.9" height="11.3" fill="#f2c567"/>
<rect x="599" y="1182" width="23.4" height="14" fill="#f2c567"/>
<rect x="625.1" y="1182" width="16.5" height="12" fill="#f2c567"/>
<rect x="666.3" y="1185.7" width="9.7" height="9.3" fill="#f8d99a"/>
<rect x="681.4" y="1183" width="28" height="10" fill="#f8d99a"/>
<rect x="542.7" y="1193" width="9.6" height="7" fill="#f8d99a"/>
<rect x="563.3" y="1195" width="13.7" height="6" fill="#f8d99a"/>
<rect x="612.7" y="1195" width="11" height="7" fill="#f8d99a"/>
<rect x="470" y="1186" width="10" height="10" fill="#f8d99a"/>
<rect x="520" y="1190" width="10" height="9" fill="#f8d99a"/>
<rect x="434.1" y="1169.2" width="40.9" height="13.8" fill="#f2c567"/>
<rect x="475" y="1167.9" width="45" height="15.1" fill="#f2c567"/>
<rect x="640" y="1169.2" width="55.2" height="13.8" fill="#f2c567"/>
<rect x="645.7" y="1167.9" width="9.6" height="2.1" fill="#f2c567"/>
<rect x="518" y="1170.6" width="122.2" height="12.4" fill="#eeb530"/>
<rect x="622.4" y="1165.7" width="9.6" height="5.3" fill="#eeb530"/>
<rect x="437" y="1183" width="40" height="3" fill="#fff"/>
<rect x="559.2" y="1158.9" width="13" height="13" fill="#e9a328"/>
<polygon points="586.1,1156.2 593.1,1163.2 586.1,1170.2 579.1,1163.2" fill="#e9a328"/>
<rect x="831" y="1194.3" width="10" height="10" fill="#f8d99a"/>
<rect x="314.3" y="1193.8" width="66" height="12.7" fill="#f088ba"/>
<rect x="380" y="1193.8" width="52" height="12.7" fill="#f4a6ca"/>
<rect x="405.6" y="1187.9" width="9.8" height="6" fill="#f4a6ca"/>
<path d="M330 1196h8v8h-8zM334 1196v8M330 1200h8" fill="none" stroke="#f4a6ca" stroke-width="0.9"/>
<path d="M339 1196h8v8h-8zM343 1196v8M339 1200h8" fill="none" stroke="#f4a6ca" stroke-width="0.9"/>
<path d="M348 1196h8v8h-8zM352 1196v8M348 1200h8" fill="none" stroke="#f4a6ca" stroke-width="0.9"/>
<path d="M357 1196h8v8h-8zM361 1196v8M357 1200h8" fill="none" stroke="#f4a6ca" stroke-width="0.9"/>
<path d="M366 1196h8v8h-8zM370 1196v8M366 1200h8" fill="none" stroke="#f4a6ca" stroke-width="0.9"/>
<path d="M382 1196h8v8h-8zM386 1196v8M382 1200h8" fill="none" stroke="#f9c3dd" stroke-width="0.8"/>
<path d="M391 1196h8v8h-8zM395 1196v8M391 1200h8" fill="none" stroke="#f9c3dd" stroke-width="0.8"/>
<path d="M400 1196h8v8h-8zM404 1196v8M400 1200h8" fill="none" stroke="#f9c3dd" stroke-width="0.8"/>
<path d="M409 1196h8v8h-8zM413 1196v8M409 1200h8" fill="none" stroke="#f9c3dd" stroke-width="0.8"/>
<path d="M418 1196h8v8h-8zM422 1196v8M418 1200h8" fill="none" stroke="#f9c3dd" stroke-width="0.8"/>
<polygon points="325.1,1192.9 331.9,1199.7 325.1,1206.5 318.3,1199.7" fill="#ea5fa2"/>
<polygon points="313.4,1187.3 306.4,1199.4 320.4,1199.4" fill="#9c9cd5"/>
<polygon points="299.6,1179.5 292.6,1191.6 306.6,1191.6" fill="#6569b5"/>
<polygon points="305.5,1172.5 298.5,1184.6 312.5,1184.6" fill="#4453a6"/>
<polygon points="315.3,1167.5 308.3,1179.6 322.3,1179.6" fill="#9c9cd5"/>
<path d="M292.2 1166.7h11v11h-11zM292.2 1166.7L303.2 1177.7M303.2 1166.7L292.2 1177.7" fill="none" stroke="#d2b1d9" stroke-width="1.5"/>
<path d="M292.2 1155.9h11v11h-11zM292.2 1155.9L303.2 1166.9M303.2 1155.9L292.2 1166.9" fill="none" stroke="#d2b1d9" stroke-width="1.5"/>
<polygon points="311,1151 304.5,1162.3 317.5,1162.3" fill="#9c9cd5"/>
<polygon points="307.5,1162.5 300.5,1174.6 314.5,1174.6" fill="#364ba0"/>
<polygon points="307.5,1154.5 300.5,1166.6 314.5,1166.6" fill="#364ba0"/>
<polygon points="307.5,1143.5 300.5,1155.6 314.5,1155.6" fill="#364ba0"/>
<polygon points="297.7,1162.6 290.2,1149.6 305.2,1149.6" fill="#63bd66"/>
<polygon points="297,1131.6 289.5,1118.6 304.5,1118.6" fill="#96d196"/>
<polygon points="303.7,1100.4 296.7,1112.5 310.7,1112.5" fill="#4453a6"/>
<circle cx="316" cy="1085.5" r="5.3" fill="#b3b3b3"/>
<circle cx="311.2" cy="1075" r="5.3" fill="#f7b3b7"/>
<polygon points="297.7,1062.5 304.7,1069.5 297.7,1076.5 290.7,1069.5" fill="#804ea0"/>
<path d="M297.3 1025.1h9v9h-9zM297.3 1025.1L306.3 1034.1M306.3 1025.1L297.3 1034.1" fill="none" stroke="#b58dc5" stroke-width="1.4"/>
<circle cx="298.8" cy="985" r="5.3" fill="#f39294"/>
<circle cx="308.5" cy="962.4" r="5.3" fill="#f39294"/>
<circle cx="301.2" cy="882.9" r="5.6" fill="#ee6666"/>
<circle cx="301.9" cy="889" r="5.6" fill="#ee6666"/>
<circle cx="300.2" cy="896.6" r="5.6" fill="#ee6666"/>
<circle cx="304.4" cy="825.4" r="5.3" fill="#e8383b"/>
<polygon points="306.1,753.2 313.1,760.2 306.1,767.2 299.1,760.2" fill="#e8383b"/>
<circle cx="306.9" cy="764.2" r="6.3" fill="#e8383b"/>
<path d="M348.2 1159a6 6 0 1 0 12 0a6 6 0 1 0 -12 0M349.9 1154.7L358.5 1163.3M358.5 1154.7L349.9 1163.3" fill="none" stroke="#63c9d9" stroke-width="1.5"/>
<polygon points="390.5,1161.9 397.5,1168.9 390.5,1175.9 383.5,1168.9" fill="#3cb8c1"/>
<rect x="84.5" y="693.8" width="832.9" height="532.1" fill="none" stroke="#4a4a4a" stroke-width="1.8" stroke-linejoin="round"/>
<line x1="73.8" y1="1201.8" x2="84.5" y2="1201.8" stroke="#4a4a4a" stroke-width="1.5"/>
<text x="63.8" y="1208.2" style="font-size:17.4px;" text-anchor="end" fill="#444444" stroke="#444444" stroke-width="0.3">0</text>
<line x1="73.8" y1="1067.2" x2="84.5" y2="1067.2" stroke="#4a4a4a" stroke-width="1.5"/>
<text x="63.8" y="1073.6" style="font-size:17.4px;" text-anchor="end" fill="#444444" stroke="#444444" stroke-width="0.3">50</text>
<line x1="73.8" y1="932.6" x2="84.5" y2="932.6" stroke="#4a4a4a" stroke-width="1.5"/>
<text x="63.8" y="939" style="font-size:17.4px;" text-anchor="end" fill="#444444" stroke="#444444" stroke-width="0.3">100</text>
<line x1="73.8" y1="798" x2="84.5" y2="798" stroke="#4a4a4a" stroke-width="1.5"/>
<text x="63.8" y="804.4" style="font-size:17.4px;" text-anchor="end" fill="#444444" stroke="#444444" stroke-width="0.3">150</text>
<line x1="917.4" y1="1201.8" x2="928.4" y2="1201.8" stroke="#4d5cb0" stroke-width="1.5"/>
<text x="938.2" y="1208.2" style="font-size:17.4px;" text-anchor="start" fill="#4d5cb0" stroke="#4d5cb0" stroke-width="0.3">0</text>
<line x1="917.4" y1="1105" x2="928.4" y2="1105" stroke="#4d5cb0" stroke-width="1.5"/>
<text x="938.2" y="1111.4" style="font-size:17.4px;" text-anchor="start" fill="#4d5cb0" stroke="#4d5cb0" stroke-width="0.3">20</text>
<line x1="917.4" y1="1008.2" x2="928.4" y2="1008.2" stroke="#4d5cb0" stroke-width="1.5"/>
<text x="938.2" y="1014.6" style="font-size:17.4px;" text-anchor="start" fill="#4d5cb0" stroke="#4d5cb0" stroke-width="0.3">40</text>
<line x1="917.4" y1="911.5" x2="928.4" y2="911.5" stroke="#4d5cb0" stroke-width="1.5"/>
<text x="938.2" y="917.9" style="font-size:17.4px;" text-anchor="start" fill="#4d5cb0" stroke="#4d5cb0" stroke-width="0.3">60</text>
<line x1="917.4" y1="814.7" x2="928.4" y2="814.7" stroke="#4d5cb0" stroke-width="1.5"/>
<text x="938.2" y="821.1" style="font-size:17.4px;" text-anchor="start" fill="#4d5cb0" stroke="#4d5cb0" stroke-width="0.3">80</text>
<line x1="917.4" y1="717.9" x2="928.4" y2="717.9" stroke="#4d5cb0" stroke-width="1.5"/>
<text x="938.2" y="724.3" style="font-size:17.4px;" text-anchor="start" fill="#4d5cb0" stroke="#4d5cb0" stroke-width="0.3">100</text>
<text x="26.6" y="959.8" style="font-size:17.4px" text-anchor="middle" fill="#444444" stroke="#444444" stroke-width="0.3" transform="rotate(-90 26.6 959.8)">−log<tspan style="font-size:11.5px" dy="3">10</tspan><tspan dy="-3">(p−value)</tspan></text>
<text x="973.6" y="958.3" style="font-size:17.2px" text-anchor="middle" fill="#4d5cb0" stroke="#4d5cb0" stroke-width="0.3" transform="rotate(90 973.6 958.3)">Recombination rate (cM/Mb)</text>
<text x="16.6" y="706" style="font-size:38.8px;font-weight:bold;" text-anchor="start" fill="#1a1a1a">b</text>
<text x="695.2" y="717" style="font-size:14.2px" text-anchor="middle" fill="#111" stroke="#111" stroke-width="0.25">r<tspan style="font-size:9px" dy="-5.5">2</tspan><tspan dy="5.5"> with reference SNP</tspan></text>
<text x="614.7" y="733.9" style="font-size:14.2px;" text-anchor="middle" fill="#111" stroke="#111" stroke-width="0.3">0</text>
<text x="678.3" y="733.9" style="font-size:14.2px;" text-anchor="middle" fill="#111" stroke="#111" stroke-width="0.3">0.4</text>
<text x="741.9" y="733.9" style="font-size:14.2px;" text-anchor="middle" fill="#111" stroke="#111" stroke-width="0.3">0.8</text>
<text x="773.7" y="733.9" style="font-size:14.2px;" text-anchor="middle" fill="#111" stroke="#111" stroke-width="0.3">1</text>
<line x1="614.7" y1="734.7" x2="614.7" y2="744.2" stroke="#222" stroke-width="1.2"/>
<line x1="646.5" y1="734.7" x2="646.5" y2="744.2" stroke="#222" stroke-width="1.2"/>
<line x1="678.3" y1="734.7" x2="678.3" y2="744.2" stroke="#222" stroke-width="1.2"/>
<line x1="710.1" y1="734.7" x2="710.1" y2="744.2" stroke="#222" stroke-width="1.2"/>
<line x1="741.9" y1="734.7" x2="741.9" y2="744.2" stroke="#222" stroke-width="1.2"/>
<line x1="773.7" y1="734.7" x2="773.7" y2="744.2" stroke="#222" stroke-width="1.2"/>
<rect x="614.7" y="744.2" width="31.8" height="11.8" fill="#b3b3b3"/>
<rect x="646.5" y="744.2" width="31.8" height="11.8" fill="#f7b3b7"/>
<rect x="678.3" y="744.2" width="31.8" height="11.8" fill="#f39294"/>
<rect x="710.1" y="744.2" width="31.8" height="11.8" fill="#ee6666"/>
<rect x="741.9" y="744.2" width="31.8" height="11.8" fill="#e8383b"/>
<line x1="646.5" y1="744.2" x2="646.5" y2="756" stroke="#222" stroke-width="1.2"/>
<line x1="678.3" y1="744.2" x2="678.3" y2="756" stroke="#222" stroke-width="1.2"/>
<line x1="710.1" y1="744.2" x2="710.1" y2="756" stroke="#222" stroke-width="1.2"/>
<line x1="741.9" y1="744.2" x2="741.9" y2="756" stroke="#222" stroke-width="1.2"/>
<rect x="614.7" y="744.2" width="159" height="11.8" fill="none" stroke="#222" stroke-width="1.5" stroke-linejoin="round" rx="1.5"/>
<rect x="614.7" y="762.7" width="31.8" height="11.8" fill="#b3b3b3"/>
<rect x="646.5" y="762.7" width="31.8" height="11.8" fill="#9c9cd5"/>
<rect x="678.3" y="762.7" width="31.8" height="11.8" fill="#6569b5"/>
<rect x="710.1" y="762.7" width="31.8" height="11.8" fill="#4453a6"/>
<rect x="741.9" y="762.7" width="31.8" height="11.8" fill="#364ba0"/>
<line x1="646.5" y1="762.7" x2="646.5" y2="774.5" stroke="#222" stroke-width="1.2"/>
<line x1="678.3" y1="762.7" x2="678.3" y2="774.5" stroke="#222" stroke-width="1.2"/>
<line x1="710.1" y1="762.7" x2="710.1" y2="774.5" stroke="#222" stroke-width="1.2"/>
<line x1="741.9" y1="762.7" x2="741.9" y2="774.5" stroke="#222" stroke-width="1.2"/>
<rect x="614.7" y="762.7" width="159" height="11.8" fill="none" stroke="#222" stroke-width="1.5" stroke-linejoin="round" rx="1.5"/>
<rect x="614.7" y="781.3" width="31.8" height="11.8" fill="#b3b3b3"/>
<rect x="646.5" y="781.3" width="31.8" height="11.8" fill="#f8d99a"/>
<rect x="678.3" y="781.3" width="31.8" height="11.8" fill="#f2c567"/>
<rect x="710.1" y="781.3" width="31.8" height="11.8" fill="#eeb530"/>
<rect x="741.9" y="781.3" width="31.8" height="11.8" fill="#e9a328"/>
<line x1="646.5" y1="781.3" x2="646.5" y2="793.1" stroke="#222" stroke-width="1.2"/>
<line x1="678.3" y1="781.3" x2="678.3" y2="793.1" stroke="#222" stroke-width="1.2"/>
<line x1="710.1" y1="781.3" x2="710.1" y2="793.1" stroke="#222" stroke-width="1.2"/>
<line x1="741.9" y1="781.3" x2="741.9" y2="793.1" stroke="#222" stroke-width="1.2"/>
<rect x="614.7" y="781.3" width="159" height="11.8" fill="none" stroke="#222" stroke-width="1.5" stroke-linejoin="round" rx="1.5"/>
<rect x="614.7" y="799.8" width="31.8" height="11.8" fill="#b3b3b3"/>
<rect x="646.5" y="799.8" width="31.8" height="11.8" fill="#96d196"/>
<rect x="678.3" y="799.8" width="31.8" height="11.8" fill="#63bd66"/>
<rect x="710.1" y="799.8" width="31.8" height="11.8" fill="#30ad4d"/>
<rect x="741.9" y="799.8" width="31.8" height="11.8" fill="#179947"/>
<line x1="646.5" y1="799.8" x2="646.5" y2="811.6" stroke="#222" stroke-width="1.2"/>
<line x1="678.3" y1="799.8" x2="678.3" y2="811.6" stroke="#222" stroke-width="1.2"/>
<line x1="710.1" y1="799.8" x2="710.1" y2="811.6" stroke="#222" stroke-width="1.2"/>
<line x1="741.9" y1="799.8" x2="741.9" y2="811.6" stroke="#222" stroke-width="1.2"/>
<rect x="614.7" y="799.8" width="159" height="11.8" fill="none" stroke="#222" stroke-width="1.5" stroke-linejoin="round" rx="1.5"/>
<rect x="614.7" y="818.3" width="31.8" height="11.8" fill="#b3b3b3"/>
<rect x="646.5" y="818.3" width="31.8" height="11.8" fill="#f9c3dd"/>
<rect x="678.3" y="818.3" width="31.8" height="11.8" fill="#f4a6ca"/>
<rect x="710.1" y="818.3" width="31.8" height="11.8" fill="#f088ba"/>
<rect x="741.9" y="818.3" width="31.8" height="11.8" fill="#ea5fa2"/>
<line x1="646.5" y1="818.3" x2="646.5" y2="830.1" stroke="#222" stroke-width="1.2"/>
<line x1="678.3" y1="818.3" x2="678.3" y2="830.1" stroke="#222" stroke-width="1.2"/>
<line x1="710.1" y1="818.3" x2="710.1" y2="830.1" stroke="#222" stroke-width="1.2"/>
<line x1="741.9" y1="818.3" x2="741.9" y2="830.1" stroke="#222" stroke-width="1.2"/>
<rect x="614.7" y="818.3" width="159" height="11.8" fill="none" stroke="#222" stroke-width="1.5" stroke-linejoin="round" rx="1.5"/>
<rect x="614.7" y="836.9" width="31.8" height="11.8" fill="#b3b3b3"/>
<rect x="646.5" y="836.9" width="31.8" height="11.8" fill="#d2b1d9"/>
<rect x="678.3" y="836.9" width="31.8" height="11.8" fill="#b58dc5"/>
<rect x="710.1" y="836.9" width="31.8" height="11.8" fill="#9667b1"/>
<rect x="741.9" y="836.9" width="31.8" height="11.8" fill="#804ea0"/>
<line x1="646.5" y1="836.9" x2="646.5" y2="848.6" stroke="#222" stroke-width="1.2"/>
<line x1="678.3" y1="836.9" x2="678.3" y2="848.6" stroke="#222" stroke-width="1.2"/>
<line x1="710.1" y1="836.9" x2="710.1" y2="848.6" stroke="#222" stroke-width="1.2"/>
<line x1="741.9" y1="836.9" x2="741.9" y2="848.6" stroke="#222" stroke-width="1.2"/>
<rect x="614.7" y="836.9" width="159" height="11.8" fill="none" stroke="#222" stroke-width="1.5" stroke-linejoin="round" rx="1.5"/>
<rect x="614.7" y="855.4" width="31.8" height="11.8" fill="#b3b3b3"/>
<rect x="646.5" y="855.4" width="31.8" height="11.8" fill="#a7e0e9"/>
<rect x="678.3" y="855.4" width="31.8" height="11.8" fill="#86d4e1"/>
<rect x="710.1" y="855.4" width="31.8" height="11.8" fill="#63c9d9"/>
<rect x="741.9" y="855.4" width="31.8" height="11.8" fill="#4fc3d3"/>
<line x1="646.5" y1="855.4" x2="646.5" y2="867.2" stroke="#222" stroke-width="1.2"/>
<line x1="678.3" y1="855.4" x2="678.3" y2="867.2" stroke="#222" stroke-width="1.2"/>
<line x1="710.1" y1="855.4" x2="710.1" y2="867.2" stroke="#222" stroke-width="1.2"/>
<line x1="741.9" y1="855.4" x2="741.9" y2="867.2" stroke="#222" stroke-width="1.2"/>
<rect x="614.7" y="855.4" width="159" height="11.8" fill="none" stroke="#222" stroke-width="1.5" stroke-linejoin="round" rx="1.5"/>
<circle cx="797.2" cy="750" r="4.2" fill="#e8383b"/>
<text x="806.1" y="754" style="font-size:15.35px;" text-anchor="start" fill="#2a2a2a" stroke="#2a2a2a" stroke-width="0.3">rs10965248</text>
<polygon points="797.2,760.7 791.7,770.2 802.7,770.2" fill="#364ba0"/>
<text x="806.1" y="771.6" style="font-size:15.35px;" text-anchor="start" fill="#2a2a2a" stroke="#2a2a2a" stroke-width="0.3">rs10757283</text>
<rect x="793" y="779" width="8.5" height="8.5" fill="#e9a328"/>
<text x="806.1" y="789.3" style="font-size:15.35px;" text-anchor="start" fill="#2a2a2a" stroke="#2a2a2a" stroke-width="0.3">rs1575972</text>
<polygon points="797.2,807.9 791.7,798.4 802.7,798.4" fill="#179947"/>
<text x="806.1" y="807" style="font-size:15.35px;" text-anchor="start" fill="#2a2a2a" stroke="#2a2a2a" stroke-width="0.3">rs10965239</text>
<path d="M793 815.4h8.5v8.5h-8.5zM797.2 815.4v8.5M793 819.6h8.5" fill="none" stroke="#f088ba" stroke-width="1.1"/>
<text x="806.1" y="824.6" style="font-size:15.35px;" text-anchor="start" fill="#2a2a2a" stroke="#2a2a2a" stroke-width="0.3">rs2151282</text>
<path d="M793 832.1h8.5v8.5h-8.5zM793 832.1L801.5 840.6M801.5 832.1L793 840.6" fill="none" stroke="#804ea0" stroke-width="1.1"/>
<text x="806.1" y="841.4" style="font-size:15.35px;" text-anchor="start" fill="#2a2a2a" stroke="#2a2a2a" stroke-width="0.3">rs12379111</text>
<path d="M792.6 853.5a4.6 4.6 0 1 0 9.2 0a4.6 4.6 0 1 0 -9.2 0M793.9 850.2L800.5 856.8M800.5 850.2L793.9 856.8" fill="none" stroke="#4fc3d3" stroke-width="1.1"/>
<text x="806.1" y="858.5" style="font-size:15.35px;" text-anchor="start" fill="#2a2a2a" stroke="#2a2a2a" stroke-width="0.3">rs75759932</text>
<rect x="84.5" y="1235.5" width="836" height="66.5" fill="none" stroke="#707070" stroke-width="1.5" stroke-linejoin="round"/>
<text x="126.6" y="1252.6" style="font-size:14.3px;font-style:italic" fill="#111" stroke="#111" stroke-width="0.25">CDKN2B–AS1</text>
<path d="M220.6 1247.6H235.3M229.3 1244.6L235.3 1247.6L229.3 1250.6" fill="none" stroke="#111" stroke-width="1.1" stroke-linejoin="round"/>
<line x1="84.5" y1="1258.3" x2="287" y2="1258.3" stroke="#232a7a" stroke-width="1.1"/>
<line x1="132.5" y1="1255.9" x2="132.5" y2="1261.3" stroke="#232a7a" stroke-width="1.7"/>
<line x1="137.8" y1="1255.9" x2="137.8" y2="1261.3" stroke="#232a7a" stroke-width="1.7"/>
<line x1="161.3" y1="1255.9" x2="161.3" y2="1261.3" stroke="#232a7a" stroke-width="1.7"/>
<line x1="165.4" y1="1255.9" x2="165.4" y2="1261.3" stroke="#232a7a" stroke-width="1.7"/>
<line x1="178.1" y1="1255.9" x2="178.1" y2="1261.3" stroke="#232a7a" stroke-width="1.7"/>
<line x1="181.9" y1="1255.9" x2="181.9" y2="1261.3" stroke="#232a7a" stroke-width="1.7"/>
<line x1="186.9" y1="1255.9" x2="186.9" y2="1261.3" stroke="#232a7a" stroke-width="1.7"/>
<line x1="191.3" y1="1255.9" x2="191.3" y2="1261.3" stroke="#232a7a" stroke-width="1.7"/>
<line x1="194.3" y1="1255.9" x2="194.3" y2="1261.3" stroke="#232a7a" stroke-width="1.7"/>
<line x1="214" y1="1255.9" x2="214" y2="1261.3" stroke="#232a7a" stroke-width="1.7"/>
<line x1="237.9" y1="1255.9" x2="237.9" y2="1261.3" stroke="#232a7a" stroke-width="1.7"/>
<line x1="245.8" y1="1255.9" x2="245.8" y2="1261.3" stroke="#232a7a" stroke-width="1.7"/>
<line x1="272.3" y1="1255.9" x2="272.3" y2="1261.3" stroke="#232a7a" stroke-width="1.7"/>
<line x1="274.7" y1="1255.9" x2="274.7" y2="1261.3" stroke="#232a7a" stroke-width="1.7"/>
<line x1="282" y1="1255.9" x2="282" y2="1261.3" stroke="#232a7a" stroke-width="1.7"/>
<line x1="285.5" y1="1255.9" x2="285.5" y2="1261.3" stroke="#232a7a" stroke-width="1.7"/>
<path d="M102.2 1281.3H87.4M93.4 1278.3L87.4 1281.3L93.4 1284.3" fill="none" stroke="#111" stroke-width="1.1" stroke-linejoin="round"/>
<text x="105.1" y="1286.3" style="font-size:14.3px;font-style:italic" fill="#111" stroke="#111" stroke-width="0.25">CDKN2B</text>
<line x1="88.3" y1="1292.6" x2="100.1" y2="1292.6" stroke="#232a7a" stroke-width="1.1"/>
<line x1="100.1" y1="1290.2" x2="100.1" y2="1295.6" stroke="#232a7a" stroke-width="1.7"/>
<rect x="88.3" y="1289.8" width="6.5" height="5.5" fill="#232a7a"/>
<text x="800.8" y="1253.5" style="font-size:14.3px;font-style:italic" fill="#111" stroke="#111" stroke-width="0.25">DMRTA1</text>
<path d="M859.3 1248.5H874M868 1245.5L874 1248.5L868 1251.5" fill="none" stroke="#111" stroke-width="1.1" stroke-linejoin="round"/>
<line x1="830.9" y1="1259.4" x2="841.5" y2="1259.4" stroke="#232a7a" stroke-width="1.1"/>
<line x1="830.9" y1="1257" x2="830.9" y2="1262.4" stroke="#232a7a" stroke-width="1.7"/>
<line x1="841.5" y1="1257" x2="841.5" y2="1262.4" stroke="#232a7a" stroke-width="1.7"/>
<rect x="830.9" y="1256.7" width="1.9" height="5.5" fill="#232a7a"/>
<rect x="839.6" y="1256.7" width="1.9" height="5.5" fill="#232a7a"/>
<line x1="84.5" y1="1302" x2="84.5" y2="1313" stroke="#707070" stroke-width="1.4"/>
<text x="84.5" y="1340.4" style="font-size:17px;" text-anchor="middle" fill="#444444" stroke="#444444" stroke-width="0.3">22</text>
<line x1="251.6" y1="1302" x2="251.6" y2="1313" stroke="#707070" stroke-width="1.4"/>
<text x="251.6" y="1340.4" style="font-size:17px;" text-anchor="middle" fill="#444444" stroke="#444444" stroke-width="0.3">22.1</text>
<line x1="418.7" y1="1302" x2="418.7" y2="1313" stroke="#707070" stroke-width="1.4"/>
<text x="418.7" y="1340.4" style="font-size:17px;" text-anchor="middle" fill="#444444" stroke="#444444" stroke-width="0.3">22.2</text>
<line x1="585.9" y1="1302" x2="585.9" y2="1313" stroke="#707070" stroke-width="1.4"/>
<text x="585.9" y="1340.4" style="font-size:17px;" text-anchor="middle" fill="#444444" stroke="#444444" stroke-width="0.3">22.3</text>
<line x1="753" y1="1302" x2="753" y2="1313" stroke="#707070" stroke-width="1.4"/>
<text x="753" y="1340.4" style="font-size:17px;" text-anchor="middle" fill="#444444" stroke="#444444" stroke-width="0.3">22.4</text>
<line x1="920.1" y1="1302" x2="920.1" y2="1313" stroke="#707070" stroke-width="1.4"/>
<text x="920.1" y="1340.4" style="font-size:17px;" text-anchor="middle" fill="#444444" stroke="#444444" stroke-width="0.3">22.5</text>
<text x="501.4" y="1364.5" style="font-size:17.3px;" text-anchor="middle" fill="#444444" stroke="#444444" stroke-width="0.3">Position on chr9 (Mb)</text>
<polyline points="72,1922 115.4,1922 116.1,1517.6 116.7,1517.6 117.4,1922 120.7,1922 121.4,1901.8 122,1901.8 122.7,1922 143.6,1922 144.3,1903.9 144.9,1903.9 145.6,1922 194.1,1922 194.8,1892.6 195.4,1892.6 196.1,1922 224,1922 224.7,1823.7 225.3,1823.7 226,1922 237.9,1922 238.6,1855.9 239.2,1855.9 239.9,1922 241.6,1922 242.3,1862.2 242.9,1862.2 243.6,1922 432.9,1922 433.6,1739.4 434.2,1739.4 434.9,1922 468.1,1922 468.8,1669 469.4,1669 470.1,1922 487.6,1922 488.3,1874.4 488.9,1874.4 489.6,1922 509.2,1922 509.9,1902.5 510.5,1902.5 511.2,1922 523.8,1922 524.5,1809.4 525.1,1809.4 525.8,1922 529.5,1922 530.2,1868 530.8,1868 531,1922 531.5,1922 531.7,1797.5 532.3,1797.5 533,1922 552.3,1922 553,1801.3 553.6,1801.3 554.3,1922 822.5,1922 823.6,1652 824.4,1652 825.5,1922 846,1922 846.7,1830.9 847.3,1830.9 848,1922 925,1922" fill="none" stroke="#5060b8" stroke-width="1.6" stroke-linejoin="round"/>
<polygon points="72,1909.7 74,1911.1 75.4,1908.8 77.2,1909.6 79.3,1912 81.8,1909.3 84.6,1910.8 87.1,1909 89.5,1909.9 92.3,1910.6 95.2,1911.6 97.2,1911.9 100.2,1912.2 101.7,1909.6 103.8,1911.2 106,1910.2 108.4,1911 110.9,1912.4 114,1911.4 116.8,1912.6 119.1,1911.6 121.9,1911 123.3,1912.1 124.8,1911.9 126.4,1909.9 129.3,1908.9 130.7,1911.6 133.5,1912.6 136.6,1909.9 139,1908.8 141,1911.1 142.4,1912.2 145.4,1912.3 147.6,1910.8 149.9,1910.9 152.9,1910.7 155.5,1909.7 158.5,1910.8 159.9,1910.4 161.2,1911.2 162.6,1911.2 165.2,1910.1 167.8,1908.8 170.3,1912.6 172.4,1911.1 174.4,1910 176.7,1909.9 179.4,1908.8 182,1909.9 184.8,1909.7 186.9,1911.5 188.7,1910 190.8,1912.1 192.7,1911.3 194.9,1909.6 197.1,1909.5 199.9,1909.4 202.6,1911.3 204.6,1909.2 207.3,1909.8 209.3,1910.4 212.3,1909.3 215.3,1912.2 217.4,1912.5 219.1,1911.7 221.6,1910.8 223.5,1909.6 225.8,1909.8 227.2,1912.3 230.2,1912.3 232.5,1908.8 234.1,1909.9 236.4,1910.4 238.8,1910.1 241.6,1910.6 243.5,1909.5 246.3,1909.4 249.2,1911.9 250.6,1911.2 252,1909.8 254.2,1910.4 256.9,1908.7 258.5,1909.2 261.5,1912.1 263.7,1910 265.6,1911.3 267.6,1909.5 269.1,1910.9 271.1,1909 273.1,1911.1 275.1,1911.9 277.2,1910.2 279.7,1910.4 281.9,1909.7 284.4,1909 286.5,1912.2 288.5,1912.3 290.2,1910.6 293,1911.3 295.7,1911.4 298,1909.1 299.3,1909.3 300.7,1909.1 303.6,1909.4 306.4,1909.2 308.9,1912 311.3,1911.9 313.9,1910.7 315.4,1911.7 316.9,1910 319.6,1909.7 321.4,1911.2 323.4,1910.2 325.3,1910.4 327.5,1912.6 330.2,1909.3 332.8,1911.4 335,1911.3 336.6,1909.1 339.5,1910.8 342.1,1909.4 343.8,1911 345.5,1911.5 347.3,1911.5 350.2,1911 351.9,1908.8 353.9,1909.4 355.8,1911.8 358.8,1910.6 361,1912 363.3,1910.6 366.1,1910.3 369.1,1910.6 370.8,1911.6 373.8,1912.1 375.5,1909.7 378.1,1912.1 379.8,1912.2 381.9,1911.6 383.4,1912 385.3,1911 386.6,1910 388.8,1909.5 391.8,1910.3 393.4,1909.8 394.9,1912.2 396.4,1912.5 399,1911.7 401.6,1911.3 403.3,1911.7 405.8,1910.8 408,1910.1 410.5,1911 413,1911.2 415.9,1911.3 418.9,1909.3 421.4,1911.1 423.9,1910.5 425.5,1909 428.2,1910.9 430.1,1909.8 433,1908.9 434.7,1911.8 436.6,1910.3 439.3,1910.1 440.8,1909.8 442.4,1911.8 444,1909.5 446.6,1912 449,1909.3 450.7,1910.8 452.3,1909.7 453.7,1911.9 456.7,1910.2 459,1911.2 461.6,1909.9 463.7,1911.1 465.1,1911.8 467.3,1910.8 468.9,1910.8 471.1,1911.3 473.4,1912.5 475,1911.9 476.4,1910.1 477.9,1910.9 479.7,1912.2 481.3,1912.1 484.3,1911.6 486.2,1911.9 489,1910.4 491.2,1909.1 492.6,1909.5 494.8,1911.5 496.9,1911.3 499,1911.7 500.7,1912.3 502.6,1910.2 505,1909.6 506.7,1911.8 508.8,1909.5 510.4,1910.3 511.8,1909.1 514,1908.9 516.1,1910.3 517.5,1910.3 518.9,1912.6 520.4,1910.6 522.8,1910.1 524.2,1911.6 526.9,1910.6 528.8,1909.7 531.5,1911.2 533,1911.4 535.4,1908.7 536.8,1909.4 538.2,1911.3 539.9,1912.6 542.7,1912.4 544,1909.9 547,1909.1 549.8,1909.2 551.7,1911.4 553.4,1911.7 556.2,1910.9 558.1,1910.4 560.8,1910.6 562.4,1911.6 565,1910.2 566.6,1911.5 568.7,1911.7 570.2,1909.6 572.7,1912.2 574.8,1912.3 576.7,1910.2 578.7,1912.5 581,1909.1 583.5,1909.7 585.1,1911.3 586.4,1909.6 588.1,1910.9 590.8,1911.1 593.1,1909.5 594.6,1912 595.9,1912.6 598.8,1909 600.5,1912 603,1911.7 604.9,1911.1 606.4,1912 609.2,1909.5 611.3,1911.6 613.2,1910.6 615.5,1911.6 618,1911.1 619.9,1912.7 622,1909 623.6,1912.4 626.5,1912.6 629.4,1910.8 632.4,1912.3 634.6,1911.8 637.7,1912.4 640.6,1909.4 643.2,1909.9 645.7,1908.9 647.5,1910.4 650.1,1911.7 651.6,1909.9 653.1,1909.3 655.6,1912.6 658.5,1910.2 660.3,1910.6 662.6,1910.1 664.4,1910.6 667.2,1909.9 669.9,1908.7 672.2,1910.8 673.6,1909.5 675.7,1912.6 678.8,1908.8 680.1,1910.4 681.5,1910.9 683.4,1909.7 685.4,1909.7 687.5,1911.2 690.4,1911.9 692,1911.7 694.2,1912 696,1909.4 698.5,1912.3 700.6,1911.4 703.4,1911.1 705.6,1909.4 708.1,1912.7 710.2,1910.1 712.9,1910.5 714.5,1910 716.5,1912.1 719.5,1911.1 721.8,1910.9 723.7,1911.5 725.2,1911.4 727.4,1912.3 729.8,1909.5 731.5,1910.2 733.3,1909.8 736.3,1910 738.1,1909.2 741.2,1909 742.9,1909 745.5,1912.1 748.2,1908.7 751.3,1909 753.4,1909.8 754.8,1909.6 756.4,1912.3 759.5,1911.4 761,1908.9 762.7,1909.5 765.5,1908.9 767.8,1910.2 769.8,1912.7 771.4,1909.3 773.3,1912.4 774.9,1912.5 778,1909.7 781,1910.6 782.9,1908.8 785.5,1911.8 787.6,1910.9 789.9,1912 792.3,1912.4 793.9,1912.6 795.5,1909.8 796.9,1912.6 799.8,1909.2 802.6,1911.9 805.2,1910.8 806.6,1910.9 808.2,1911.1 810.4,1910.2 812.4,1911.1 815.3,1912.1 817.2,1912.6 818.7,1910.7 820.6,1911.3 823.7,1910.5 825.9,1912.2 828.2,1910.5 829.6,1910.4 832.3,1908.9 834.3,1912.6 836,1910.9 838.1,1912.2 840,1909.9 842,1910.2 844.9,1911 846.6,1910.2 848.2,1909 850,1908.8 852.9,1910.8 855.7,1912.1 857.8,1911.4 860.7,1910.2 863.6,1909.8 866.3,1911.1 867.7,1910.1 870.5,1909.4 872.5,1910.7 874.9,1911.3 876.4,1912.6 877.9,1910.5 880.9,1909 883.1,1910.4 885.9,1910 888.2,1912.2 890.2,1909.1 891.6,1912.4 893.9,1909 896.1,1912.1 897.9,1912.6 900.1,1909.5 903,1909.2 905.5,1910.1 908.4,1912.1 910.1,1908.9 911.9,1909.5 913.6,1912 915.2,1912.4 916.9,1909.4 919.1,1910.2 921.8,1908.9 923.8,1909.4 923.8,1935.2 921.8,1935.7 919.1,1937.1 916.9,1934.5 915.2,1935.7 913.6,1937.4 911.9,1937.2 910.1,1935.8 908.4,1936.8 905.5,1936.9 903,1936.1 900.1,1935.4 897.9,1936.5 896.1,1936.1 893.9,1935.1 891.6,1936.1 890.2,1936.5 888.2,1935 885.9,1935.7 883.1,1937.3 880.9,1934.4 877.9,1936.8 876.4,1936.6 874.9,1935.8 872.5,1935.8 870.5,1935.3 867.7,1934.4 866.3,1934.7 863.6,1935 860.7,1935.9 857.8,1934.8 855.7,1937.3 852.9,1936.8 850,1936.1 848.2,1935.4 846.6,1936.4 844.9,1934.9 842,1936.5 840,1936 838.1,1936.7 836,1937.2 834.3,1935.6 832.3,1937.1 829.6,1937.1 828.2,1936.4 825.9,1937.6 823.7,1935.9 820.6,1935.3 818.7,1936.7 817.2,1935.3 815.3,1937.1 812.4,1937.5 810.4,1935.4 808.2,1935.4 806.6,1935.8 805.2,1936.9 802.6,1937.6 799.8,1934.4 796.9,1935.7 795.5,1935 793.9,1937.1 792.3,1937.1 789.9,1935 787.6,1935.8 785.5,1936.2 782.9,1935.5 781,1936.7 778,1935.5 774.9,1937.6 773.3,1934.6 771.4,1934.8 769.8,1935.3 767.8,1934.7 765.5,1937.5 762.7,1937 761,1936.8 759.5,1936.5 756.4,1935 754.8,1937.5 753.4,1936.1 751.3,1935.3 748.2,1935.3 745.5,1936.4 742.9,1936.1 741.2,1935.1 738.1,1935.2 736.3,1935.7 733.3,1937.4 731.5,1937.1 729.8,1937.3 727.4,1937.5 725.2,1935.6 723.7,1937.3 721.8,1936 719.5,1934.5 716.5,1937 714.5,1936.1 712.9,1937.5 710.2,1935.9 708.1,1936.2 705.6,1935 703.4,1935.7 700.6,1937.4 698.5,1937.3 696,1934.5 694.2,1936.2 692,1936.9 690.4,1935.2 687.5,1936.6 685.4,1934.5 683.4,1937 681.5,1934.7 680.1,1935.5 678.8,1935 675.7,1936.9 673.6,1936.9 672.2,1934.9 669.9,1934.8 667.2,1935.2 664.4,1937.2 662.6,1937.1 660.3,1936.1 658.5,1934.9 655.6,1937.5 653.1,1936.8 651.6,1935.7 650.1,1935.3 647.5,1935.5 645.7,1936.8 643.2,1936.1 640.6,1934.7 637.7,1935.3 634.6,1935.7 632.4,1937.4 629.4,1935.7 626.5,1936.4 623.6,1936.7 622,1935.1 619.9,1935.5 618,1935.1 615.5,1935.8 613.2,1934.6 611.3,1934.6 609.2,1936.1 606.4,1936.3 604.9,1935.8 603,1937.2 600.5,1936.4 598.8,1935.9 595.9,1935 594.6,1934.8 593.1,1935 590.8,1936.9 588.1,1935.7 586.4,1937.5 585.1,1936.3 583.5,1934.6 581,1934.7 578.7,1934.7 576.7,1934.6 574.8,1936.7 572.7,1937.2 570.2,1937.1 568.7,1936.6 566.6,1934.5 565,1936 562.4,1936.3 560.8,1935.3 558.1,1935.1 556.2,1937.4 553.4,1936.7 551.7,1937.4 549.8,1935.6 547,1935.3 544,1936.3 542.7,1937.4 539.9,1935.9 538.2,1937.3 536.8,1934.5 535.4,1934.5 533,1937.5 531.5,1935.5 528.8,1935.3 526.9,1937.4 524.2,1935.3 522.8,1934.8 520.4,1934.9 518.9,1935.1 517.5,1935.7 516.1,1936.7 514,1934.5 511.8,1934.9 510.4,1934.9 508.8,1935.1 506.7,1934.9 505,1934.4 502.6,1936.1 500.7,1936.7 499,1935.7 496.9,1935.4 494.8,1936.1 492.6,1934.9 491.2,1934.5 489,1936.8 486.2,1937.4 484.3,1936.8 481.3,1936.3 479.7,1936.6 477.9,1937.4 476.4,1935.1 475,1936.4 473.4,1937.3 471.1,1935.8 468.9,1934.5 467.3,1935.9 465.1,1936.5 463.7,1936.7 461.6,1937.2 459,1937.5 456.7,1936.2 453.7,1937.3 452.3,1936.9 450.7,1936.2 449,1935.7 446.6,1936.8 444,1935.7 442.4,1936.7 440.8,1934.7 439.3,1937.1 436.6,1936.1 434.7,1935.5 433,1936 430.1,1935.6 428.2,1936.8 425.5,1936.7 423.9,1935.4 421.4,1936.2 418.9,1935.5 415.9,1934.8 413,1935 410.5,1935 408,1936.7 405.8,1934.8 403.3,1937.5 401.6,1937 399,1935.3 396.4,1935.6 394.9,1937.3 393.4,1936.5 391.8,1936.1 388.8,1936.3 386.6,1935.8 385.3,1936.6 383.4,1935.3 381.9,1934.7 379.8,1935.4 378.1,1937.3 375.5,1935 373.8,1935.2 370.8,1936.6 369.1,1935.1 366.1,1936.7 363.3,1936.7 361,1937 358.8,1936.3 355.8,1934.9 353.9,1935.6 351.9,1935.9 350.2,1935.3 347.3,1935.7 345.5,1937.5 343.8,1935.4 342.1,1935.3 339.5,1935.8 336.6,1936.8 335,1937.3 332.8,1936.1 330.2,1936.6 327.5,1935.7 325.3,1934.7 323.4,1935.7 321.4,1936.8 319.6,1935 316.9,1936.2 315.4,1937.4 313.9,1936.7 311.3,1934.5 308.9,1937.4 306.4,1937.1 303.6,1934.5 300.7,1934.7 299.3,1936.9 298,1936.3 295.7,1936.7 293,1937.2 290.2,1934.8 288.5,1936.9 286.5,1937.4 284.4,1935.8 281.9,1936.1 279.7,1936.6 277.2,1936 275.1,1936.4 273.1,1936.9 271.1,1935 269.1,1936.7 267.6,1935.5 265.6,1936.3 263.7,1935.4 261.5,1934.7 258.5,1934.6 256.9,1934.6 254.2,1935.9 252,1935.3 250.6,1937.2 249.2,1937 246.3,1936.9 243.5,1936.1 241.6,1936.9 238.8,1935.2 236.4,1937.4 234.1,1936.5 232.5,1936.8 230.2,1937.3 227.2,1936.6 225.8,1937 223.5,1934.6 221.6,1935.3 219.1,1937.1 217.4,1937.4 215.3,1937.6 212.3,1934.4 209.3,1935.7 207.3,1935.5 204.6,1935.3 202.6,1937 199.9,1935.3 197.1,1937 194.9,1934.8 192.7,1937.2 190.8,1934.9 188.7,1937.1 186.9,1934.7 184.8,1935 182,1935.1 179.4,1936.2 176.7,1935.6 174.4,1935.6 172.4,1935.4 170.3,1935.2 167.8,1934.6 165.2,1936.7 162.6,1935.9 161.2,1936.4 159.9,1936.3 158.5,1936.2 155.5,1935.4 152.9,1935.8 149.9,1936.4 147.6,1936.5 145.4,1935.6 142.4,1935.4 141,1934.9 139,1935 136.6,1934.6 133.5,1936 130.7,1935.5 129.3,1936.4 126.4,1936.9 124.8,1935.7 123.3,1937.6 121.9,1935.3 119.1,1935.1 116.8,1937.3 114,1934.9 110.9,1937.1 108.4,1937.3 106,1935.5 103.8,1935.4 101.7,1937.5 100.2,1934.7 97.2,1935.8 95.2,1937.3 92.3,1936.7 89.5,1934.5 87.1,1936.8 84.6,1936.8 81.8,1936.4 79.3,1935.9 77.2,1937.6 75.4,1937.1 74,1936.4 72,1936.1" fill="#b3b3b3"/>
<rect x="327" y="1898" width="17" height="13" fill="#b3b3b3"/>
<circle cx="224.6" cy="1908.2" r="6.5" fill="#b3b3b3"/>
<polygon points="250.6,1913.6 242.6,1899.7 258.6,1899.7" fill="#b3b3b3"/>
<circle cx="127.1" cy="1903" r="5.6" fill="#b3b3b3"/>
<circle cx="389.8" cy="1883" r="5.6" fill="#b3b3b3"/>
<circle cx="421.1" cy="1906.8" r="5.6" fill="#b3b3b3"/>
<circle cx="492.1" cy="1863.6" r="5.6" fill="#b3b3b3"/>
<circle cx="591.4" cy="1839" r="5.6" fill="#b3b3b3"/>
<circle cx="654" cy="1804.5" r="5.6" fill="#b3b3b3"/>
<circle cx="767.1" cy="1831.9" r="5.6" fill="#b3b3b3"/>
<circle cx="769.5" cy="1849.5" r="5.6" fill="#b3b3b3"/>
<circle cx="808.3" cy="1833.8" r="5.6" fill="#b3b3b3"/>
<circle cx="810.3" cy="1842.7" r="5.6" fill="#b3b3b3"/>
<circle cx="824" cy="1829.9" r="5.6" fill="#b3b3b3"/>
<circle cx="808.3" cy="1873.1" r="5.6" fill="#b3b3b3"/>
<circle cx="808.3" cy="1881" r="5.6" fill="#b3b3b3"/>
<circle cx="791.2" cy="1881.9" r="5.6" fill="#b3b3b3"/>
<circle cx="825" cy="1883.9" r="5.6" fill="#b3b3b3"/>
<circle cx="837.4" cy="1900.6" r="5.6" fill="#b3b3b3"/>
<circle cx="851.1" cy="1895.7" r="5.6" fill="#b3b3b3"/>
<circle cx="821.1" cy="1892.7" r="5.6" fill="#b3b3b3"/>
<circle cx="792.6" cy="1889.8" r="5.6" fill="#b3b3b3"/>
<circle cx="160" cy="1906" r="5.6" fill="#b3b3b3"/>
<circle cx="176" cy="1907" r="5.6" fill="#b3b3b3"/>
<circle cx="600" cy="1906" r="5.6" fill="#b3b3b3"/>
<circle cx="650" cy="1902" r="5.6" fill="#b3b3b3"/>
<circle cx="700" cy="1906" r="5.6" fill="#b3b3b3"/>
<circle cx="760" cy="1902" r="5.6" fill="#b3b3b3"/>
<circle cx="780" cy="1900" r="5.6" fill="#b3b3b3"/>
<circle cx="800" cy="1898" r="5.6" fill="#b3b3b3"/>
<circle cx="812" cy="1895" r="5.6" fill="#b3b3b3"/>
<circle cx="830" cy="1902" r="5.6" fill="#b3b3b3"/>
<circle cx="845" cy="1905" r="5.6" fill="#b3b3b3"/>
<circle cx="860" cy="1904" r="5.6" fill="#b3b3b3"/>
<circle cx="875" cy="1907" r="5.6" fill="#b3b3b3"/>
<circle cx="890" cy="1905" r="5.6" fill="#b3b3b3"/>
<circle cx="905" cy="1906" r="5.6" fill="#b3b3b3"/>
<circle cx="915" cy="1907" r="5.6" fill="#b3b3b3"/>
<path d="M316.4 1892.1h11v11h-11zM321.9 1892.1v11M316.4 1897.6h11" fill="none" stroke="#b3b3b3" stroke-width="1.6"/>
<path d="M360.2 1893.4h11v11h-11zM365.7 1893.4v11M360.2 1898.9h11" fill="none" stroke="#b3b3b3" stroke-width="1.6"/>
<path d="M459.4 1828.7h11v11h-11zM464.9 1828.7v11M459.4 1834.2h11" fill="none" stroke="#b3b3b3" stroke-width="1.6"/>
<path d="M324.5 1897.5h11v11h-11zM330 1897.5v11M324.5 1903h11" fill="none" stroke="#b3b3b3" stroke-width="1.6"/>
<path d="M339.5 1899.5h11v11h-11zM345 1899.5v11M339.5 1905h11" fill="none" stroke="#b3b3b3" stroke-width="1.6"/>
<polygon points="613.8,1880.1 606.3,1867.1 621.3,1867.1" fill="#b3b3b3"/>
<polygon points="626.8,1878.1 619.3,1865.1 634.3,1865.1" fill="#b3b3b3"/>
<polygon points="737,1893.1 729.5,1880.1 744.5,1880.1" fill="#b3b3b3"/>
<polygon points="600,1888.1 592.5,1875.1 607.5,1875.1" fill="#b3b3b3"/>
<polygon points="590,1898.1 582.5,1885.1 597.5,1885.1" fill="#b3b3b3"/>
<polygon points="640,1893.1 632.5,1880.1 647.5,1880.1" fill="#b3b3b3"/>
<polygon points="610,1903.1 602.5,1890.1 617.5,1890.1" fill="#b3b3b3"/>
<polygon points="655,1901.1 647.5,1888.1 662.5,1888.1" fill="#b3b3b3"/>
<polygon points="620,1896.1 612.5,1883.1 627.5,1883.1" fill="#b3b3b3"/>
<polygon points="630,1906.1 622.5,1893.1 637.5,1893.1" fill="#b3b3b3"/>
<polygon points="580,1906.1 572.5,1893.1 587.5,1893.1" fill="#b3b3b3"/>
<polygon points="670,1906.1 662.5,1893.1 677.5,1893.1" fill="#b3b3b3"/>
<polygon points="700,1908.1 692.5,1895.1 707.5,1895.1" fill="#b3b3b3"/>
<polygon points="720,1903.1 712.5,1890.1 727.5,1890.1" fill="#b3b3b3"/>
<polygon points="360,1913.1 352.5,1900.1 367.5,1900.1" fill="#b3b3b3"/>
<path d="M730.7 1886.7L742.7 1898.7M742.7 1886.7L730.7 1898.7" fill="none" stroke="#999" stroke-width="1.8"/>
<polygon points="515,1912 518,1903 524,1899 527,1894 531,1899 536,1903 540,1908 548,1903 555,1898 562,1900 566,1912" fill="#b3b3b3"/>
<polygon points="552,1910 560,1903 568,1898 586,1893 596,1880 603.6,1870 612,1876 620,1868 635.4,1870 645,1880 657,1891 662,1902 700,1902.4 720,1903 760,1902 786,1898 792,1890 806,1886 822,1888 836,1896 852,1893 870,1904 890,1907 922,1910 922,1920 552,1920" fill="#b3b3b3"/>
<circle cx="791.4" cy="1881.6" r="5.8" fill="#b3b3b3"/>
<circle cx="807.2" cy="1871.4" r="5.8" fill="#b3b3b3"/>
<circle cx="807.2" cy="1880.5" r="5.8" fill="#b3b3b3"/>
<circle cx="824.2" cy="1883.9" r="5.8" fill="#b3b3b3"/>
<circle cx="821.9" cy="1892.9" r="5.8" fill="#b3b3b3"/>
<circle cx="836.6" cy="1900.8" r="5.8" fill="#b3b3b3"/>
<circle cx="850.8" cy="1895.1" r="5.8" fill="#b3b3b3"/>
<circle cx="878.3" cy="1911" r="5.8" fill="#b3b3b3"/>
<circle cx="898.6" cy="1908.7" r="5.8" fill="#b3b3b3"/>
<circle cx="914.4" cy="1913.2" r="5.8" fill="#b3b3b3"/>
<circle cx="866" cy="1905" r="5.8" fill="#b3b3b3"/>
<circle cx="888" cy="1906" r="5.8" fill="#b3b3b3"/>
<circle cx="905" cy="1907" r="5.8" fill="#b3b3b3"/>
<circle cx="800" cy="1892" r="5.8" fill="#b3b3b3"/>
<circle cx="813" cy="1890" r="5.8" fill="#b3b3b3"/>
<circle cx="830" cy="1894" r="5.8" fill="#b3b3b3"/>
<circle cx="843" cy="1898" r="5.8" fill="#b3b3b3"/>
<circle cx="858" cy="1900" r="5.8" fill="#b3b3b3"/>
<polygon points="603.6,1883.1 595.1,1868.4 612.1,1868.4" fill="#b3b3b3"/>
<polygon points="620,1883.1 611.5,1868.4 628.5,1868.4" fill="#b3b3b3"/>
<polygon points="636,1883.1 627.5,1868.4 644.5,1868.4" fill="#b3b3b3"/>
<polygon points="594,1895.1 585.5,1880.4 602.5,1880.4" fill="#b3b3b3"/>
<polygon points="612,1893.1 603.5,1878.4 620.5,1878.4" fill="#b3b3b3"/>
<polygon points="628,1893.1 619.5,1878.4 636.5,1878.4" fill="#b3b3b3"/>
<polygon points="646,1893.1 637.5,1878.4 654.5,1878.4" fill="#b3b3b3"/>
<polygon points="600,1905.1 591.5,1890.4 608.5,1890.4" fill="#b3b3b3"/>
<polygon points="618,1904.1 609.5,1889.4 626.5,1889.4" fill="#b3b3b3"/>
<polygon points="636,1902.1 627.5,1887.4 644.5,1887.4" fill="#b3b3b3"/>
<polygon points="652,1904.1 643.5,1889.4 660.5,1889.4" fill="#b3b3b3"/>
<polygon points="568,1909.1 559.5,1894.4 576.5,1894.4" fill="#b3b3b3"/>
<polygon points="580,1907.1 571.5,1892.4 588.5,1892.4" fill="#b3b3b3"/>
<path d="M149.5 1909h11v11h-11zM155 1909v11M149.5 1914.5h11" fill="none" stroke="#f9c3dd" stroke-width="1.6"/>
<path d="M156.5 1909h11v11h-11zM162 1909v11M156.5 1914.5h11" fill="none" stroke="#f9c3dd" stroke-width="1.6"/>
<path d="M163 1909h11v11h-11zM168.5 1909v11M163 1914.5h11" fill="none" stroke="#f9c3dd" stroke-width="1.6"/>
<path d="M170.5 1906.5h11v11h-11zM176 1906.5v11M170.5 1912h11" fill="none" stroke="#f9c3dd" stroke-width="1.6"/>
<path d="M186.5 1907.5h11v11h-11zM192 1907.5v11M186.5 1913h11" fill="none" stroke="#f9c3dd" stroke-width="1.6"/>
<path d="M193.5 1907.5h11v11h-11zM199 1907.5v11M193.5 1913h11" fill="none" stroke="#f9c3dd" stroke-width="1.6"/>
<path d="M200.5 1905.5h11v11h-11zM206 1905.5v11M200.5 1911h11" fill="none" stroke="#f9c3dd" stroke-width="1.6"/>
<path d="M233.4 1905.9h11v11h-11zM238.9 1905.9v11M233.4 1911.4h11" fill="none" stroke="#f9c3dd" stroke-width="1.6"/>
<path d="M268.4 1900.5h11v11h-11zM273.9 1900.5v11M268.4 1906h11" fill="none" stroke="#f9c3dd" stroke-width="1.6"/>
<path d="M293.4 1895h11v11h-11zM298.9 1895v11M293.4 1900.5h11" fill="none" stroke="#f9c3dd" stroke-width="1.6"/>
<path d="M305.9 1899.5h11v11h-11zM311.4 1899.5v11M305.9 1905h11" fill="none" stroke="#f9c3dd" stroke-width="1.6"/>
<path d="M351.8 1895h11v11h-11zM357.3 1895v11M351.8 1900.5h11" fill="none" stroke="#f9c3dd" stroke-width="1.6"/>
<path d="M430.6 1819.1h11v11h-11zM436.1 1819.1v11M430.6 1824.6h11" fill="none" stroke="#f9c3dd" stroke-width="1.6"/>
<rect x="208.4" y="1922.1" width="11" height="11" fill="#f8d99a"/>
<polygon points="407.4,1892.2 414.9,1899.7 407.4,1907.2 399.9,1899.7" fill="#ea5fa2"/>
<polygon points="646,1903 700,1904 750,1905 788.7,1906 788.7,1923 740,1924 700,1922 660,1921 646,1918" fill="#9c9cd5" opacity="0.9"/>
<polygon points="720,1905 788.7,1904.5 788.7,1923.1 720,1923" fill="#9c9cd5" opacity="0.9"/>
<rect x="562.2" y="1908.2" width="11" height="11" fill="#eeb530"/>
<rect x="600.6" y="1901.4" width="11" height="11" fill="#eeb530"/>
<rect x="629.9" y="1897" width="11" height="11" fill="#eeb530"/>
<rect x="678.3" y="1893.5" width="11" height="11" fill="#eeb530"/>
<rect x="690.4" y="1893" width="11" height="11" fill="#eeb530"/>
<rect x="757.3" y="1893" width="11" height="11" fill="#eeb530"/>
<rect x="775.5" y="1905.5" width="11" height="11" fill="#eeb530"/>
<rect x="757.7" y="1893.1" width="11" height="11" fill="#eeb530"/>
<rect x="582.5" y="1913.5" width="11" height="11" fill="#f8d99a"/>
<rect x="607.5" y="1921.5" width="11" height="11" fill="#f8d99a"/>
<rect x="625.6" y="1909.5" width="11" height="11" fill="#f8d99a"/>
<rect x="638.5" y="1909.5" width="11" height="11" fill="#f8d99a"/>
<rect x="629.1" y="1919.5" width="11" height="11" fill="#f8d99a"/>
<rect x="639.9" y="1921.5" width="11" height="11" fill="#f8d99a"/>
<rect x="680.9" y="1920.5" width="11" height="11" fill="#f8d99a"/>
<rect x="692.5" y="1915.5" width="11" height="11" fill="#f8d99a"/>
<rect x="724.1" y="1909.5" width="11" height="11" fill="#f8d99a"/>
<rect x="761.6" y="1907.5" width="11" height="11" fill="#f8d99a"/>
<rect x="785.4" y="1907.5" width="11" height="11" fill="#f8d99a"/>
<rect x="724.3" y="1910.8" width="11" height="11" fill="#f8d99a"/>
<polygon points="625.5,1890.5 632.5,1897.5 625.5,1904.5 618.5,1897.5" fill="#e9a328"/>
<path d="M655.5 1914.6h10v10h-10zM655.5 1914.6L665.5 1924.6M665.5 1914.6L655.5 1924.6" fill="none" stroke="#b58dc5" stroke-width="1.5"/>
<polygon points="673.4,1880 680.4,1887 673.4,1894 666.4,1887" fill="#804ea0"/>
<polygon points="635.4,1859.1 627.9,1846.1 642.9,1846.1" fill="#96d196"/>
<polygon points="582.3,1864.1 574.9,1876.8 589.6,1876.8" fill="#9c9cd5"/>
<polygon points="593.1,1872.1 585.8,1884.8 600.5,1884.8" fill="#9c9cd5"/>
<polygon points="578.4,1885.1 571,1897.8 585.8,1897.8" fill="#9c9cd5"/>
<polygon points="666.5,1867.1 659.1,1879.8 673.9,1879.8" fill="#9c9cd5"/>
<polygon points="776.5,1873.4 769.1,1886.1 783.9,1886.1" fill="#9c9cd5"/>
<polygon points="621.2,1827.1 613.9,1839.8 628.6,1839.8" fill="#364ba0"/>
<polygon points="634.6,1844.1 627.2,1856.8 642,1856.8" fill="#364ba0"/>
<polygon points="649.7,1844.1 642.4,1856.8 657.1,1856.8" fill="#364ba0"/>
<polygon points="665.7,1844.1 658.4,1856.8 673.1,1856.8" fill="#364ba0"/>
<polygon points="634.6,1856.1 627.2,1868.8 642,1868.8" fill="#364ba0"/>
<polygon points="691.6,1855.1 684.2,1867.8 699,1867.8" fill="#364ba0"/>
<polygon points="703.7,1849.1 696.4,1861.8 711.1,1861.8" fill="#364ba0"/>
<polygon points="713.2,1849.1 705.9,1861.8 720.6,1861.8" fill="#364ba0"/>
<polygon points="707.5,1857.1 700.1,1869.8 714.9,1869.8" fill="#364ba0"/>
<polygon points="744.7,1851.1 737.4,1863.8 752.1,1863.8" fill="#364ba0"/>
<polygon points="760.7,1860.1 753.4,1872.8 768.1,1872.8" fill="#364ba0"/>
<polygon points="773.6,1835.1 766.2,1847.8 781,1847.8" fill="#364ba0"/>
<polygon points="788.7,1840.1 781.4,1852.8 796.1,1852.8" fill="#364ba0"/>
<polygon points="775.8,1864.1 768.4,1876.8 783.1,1876.8" fill="#364ba0"/>
<polygon points="673.4,1868.1 666,1880.8 680.8,1880.8" fill="#364ba0"/>
<polygon points="745.1,1851.5 737.8,1864.2 752.5,1864.2" fill="#364ba0"/>
<polygon points="761.2,1860.3 753.9,1873 768.6,1873" fill="#364ba0"/>
<polygon points="775.5,1864.2 768.1,1876.9 782.9,1876.9" fill="#364ba0"/>
<polygon points="603.6,1870.7 596.2,1883.4 611,1883.4" fill="#364ba0"/>
<polygon points="640.2,1817.3 647.7,1824.8 640.2,1832.3 632.7,1824.8" fill="#364ba0"/>
<polygon points="637.4,1783.4 644.9,1790.9 637.4,1798.4 629.9,1790.9" fill="#179947"/>
<polygon points="585.4,1712.3 577.2,1698.1 593.5,1698.1" fill="#96d196"/>
<polygon points="603.6,1740.8 595.5,1726.6 611.8,1726.6" fill="#63bd66"/>
<polygon points="589.3,1763.3 581.1,1749.1 597.4,1749.1" fill="#96d196"/>
<polygon points="791.6,1775.9 783.5,1761.7 799.8,1761.7" fill="#96d196"/>
<polygon points="788.3,1865.1 795.3,1872.1 788.3,1879.1 781.3,1872.1" fill="#42bcc6"/>
<circle cx="806.4" cy="1741.6" r="5.7" fill="#f7b3b7"/>
<circle cx="806" cy="1748.5" r="5.7" fill="#f7b3b7"/>
<circle cx="822.1" cy="1753" r="5.7" fill="#f7b3b7"/>
<circle cx="808.3" cy="1762.2" r="5.7" fill="#f7b3b7"/>
<circle cx="553.6" cy="1628" r="5.4" fill="#f39294"/>
<circle cx="639.4" cy="1625.6" r="5.4" fill="#f39294"/>
<circle cx="602.1" cy="1564.2" r="5.4" fill="#ee6666"/>
<circle cx="639.1" cy="1513.2" r="5.4" fill="#ee6666"/>
<circle cx="726.5" cy="1548.3" r="5.4" fill="#ee6666"/>
<circle cx="641.5" cy="1498.2" r="5.4" fill="#e8383b"/>
<circle cx="740.1" cy="1534.9" r="5.4" fill="#e8383b"/>
<circle cx="783" cy="1574.7" r="5.4" fill="#e8383b"/>
<polygon points="640.3,1474.9 647.8,1482.4 640.3,1489.9 632.8,1482.4" fill="#e8383b"/>
<rect x="77.4" y="1413.3" width="842.6" height="538.8" fill="none" stroke="#4a4a4a" stroke-width="1.8" stroke-linejoin="round"/>
<line x1="66.7" y1="1928.3" x2="77.4" y2="1928.3" stroke="#4a4a4a" stroke-width="1.5"/>
<text x="56.4" y="1934.7" style="font-size:17.4px;" text-anchor="end" fill="#444444" stroke="#444444" stroke-width="0.3">0</text>
<line x1="66.7" y1="1759" x2="77.4" y2="1759" stroke="#4a4a4a" stroke-width="1.5"/>
<text x="56.4" y="1765.5" style="font-size:17.4px;" text-anchor="end" fill="#444444" stroke="#444444" stroke-width="0.3">50</text>
<line x1="66.7" y1="1589.8" x2="77.4" y2="1589.8" stroke="#4a4a4a" stroke-width="1.5"/>
<text x="56.4" y="1596.2" style="font-size:17.4px;" text-anchor="end" fill="#444444" stroke="#444444" stroke-width="0.3">100</text>
<line x1="66.7" y1="1420.5" x2="77.4" y2="1420.5" stroke="#4a4a4a" stroke-width="1.5"/>
<text x="56.4" y="1427" style="font-size:17.4px;" text-anchor="end" fill="#444444" stroke="#444444" stroke-width="0.3">150</text>
<line x1="920" y1="1928.3" x2="931" y2="1928.3" stroke="#4d5cb0" stroke-width="1.5"/>
<text x="940.8" y="1934.7" style="font-size:17.4px;" text-anchor="start" fill="#4d5cb0" stroke="#4d5cb0" stroke-width="0.3">0</text>
<line x1="920" y1="1830.1" x2="931" y2="1830.1" stroke="#4d5cb0" stroke-width="1.5"/>
<text x="940.8" y="1836.5" style="font-size:17.4px;" text-anchor="start" fill="#4d5cb0" stroke="#4d5cb0" stroke-width="0.3">20</text>
<line x1="920" y1="1732" x2="931" y2="1732" stroke="#4d5cb0" stroke-width="1.5"/>
<text x="940.8" y="1738.4" style="font-size:17.4px;" text-anchor="start" fill="#4d5cb0" stroke="#4d5cb0" stroke-width="0.3">40</text>
<line x1="920" y1="1633.8" x2="931" y2="1633.8" stroke="#4d5cb0" stroke-width="1.5"/>
<text x="940.8" y="1640.2" style="font-size:17.4px;" text-anchor="start" fill="#4d5cb0" stroke="#4d5cb0" stroke-width="0.3">60</text>
<line x1="920" y1="1535.7" x2="931" y2="1535.7" stroke="#4d5cb0" stroke-width="1.5"/>
<text x="940.8" y="1542.1" style="font-size:17.4px;" text-anchor="start" fill="#4d5cb0" stroke="#4d5cb0" stroke-width="0.3">80</text>
<line x1="920" y1="1437.5" x2="931" y2="1437.5" stroke="#4d5cb0" stroke-width="1.5"/>
<text x="940.8" y="1444" style="font-size:17.4px;" text-anchor="start" fill="#4d5cb0" stroke="#4d5cb0" stroke-width="0.3">100</text>
<text x="18.3" y="1683" style="font-size:17.4px" text-anchor="middle" fill="#444444" stroke="#444444" stroke-width="0.3" transform="rotate(-90 18.3 1683)">−log<tspan style="font-size:11.5px" dy="3">10</tspan><tspan dy="-3">(p−value)</tspan></text>
<text x="978" y="1682.7" style="font-size:17.4px" text-anchor="middle" fill="#4d5cb0" stroke="#4d5cb0" stroke-width="0.3" transform="rotate(90 978 1682.7)">Recombination rate (cM/Mb)</text>
<text x="16.2" y="1401.3" style="font-size:38.5px;font-weight:bold;" text-anchor="start" fill="#1a1a1a">c</text>
<text x="223.1" y="1443.8" style="font-size:14.2px" text-anchor="middle" fill="#111" stroke="#111" stroke-width="0.25">r<tspan style="font-size:9px" dy="-5.5">2</tspan><tspan dy="5.5"> with reference SNP</tspan></text>
<text x="141.9" y="1460.2" style="font-size:14.2px;" text-anchor="middle" fill="#111" stroke="#111" stroke-width="0.3">0</text>
<text x="205.5" y="1460.2" style="font-size:14.2px;" text-anchor="middle" fill="#111" stroke="#111" stroke-width="0.3">0.4</text>
<text x="269.1" y="1460.2" style="font-size:14.2px;" text-anchor="middle" fill="#111" stroke="#111" stroke-width="0.3">0.8</text>
<text x="300.9" y="1460.2" style="font-size:14.2px;" text-anchor="middle" fill="#111" stroke="#111" stroke-width="0.3">1</text>
<line x1="141.9" y1="1462" x2="141.9" y2="1471.5" stroke="#222" stroke-width="1.2"/>
<line x1="173.7" y1="1462" x2="173.7" y2="1471.5" stroke="#222" stroke-width="1.2"/>
<line x1="205.5" y1="1462" x2="205.5" y2="1471.5" stroke="#222" stroke-width="1.2"/>
<line x1="237.3" y1="1462" x2="237.3" y2="1471.5" stroke="#222" stroke-width="1.2"/>
<line x1="269.1" y1="1462" x2="269.1" y2="1471.5" stroke="#222" stroke-width="1.2"/>
<line x1="300.9" y1="1462" x2="300.9" y2="1471.5" stroke="#222" stroke-width="1.2"/>
<rect x="141.9" y="1471.5" width="31.8" height="11.6" fill="#b3b3b3"/>
<rect x="173.7" y="1471.5" width="31.8" height="11.6" fill="#f7b3b7"/>
<rect x="205.5" y="1471.5" width="31.8" height="11.6" fill="#f39294"/>
<rect x="237.3" y="1471.5" width="31.8" height="11.6" fill="#ee6666"/>
<rect x="269.1" y="1471.5" width="31.8" height="11.6" fill="#e8383b"/>
<line x1="173.7" y1="1471.5" x2="173.7" y2="1483.1" stroke="#222" stroke-width="1.2"/>
<line x1="205.5" y1="1471.5" x2="205.5" y2="1483.1" stroke="#222" stroke-width="1.2"/>
<line x1="237.3" y1="1471.5" x2="237.3" y2="1483.1" stroke="#222" stroke-width="1.2"/>
<line x1="269.1" y1="1471.5" x2="269.1" y2="1483.1" stroke="#222" stroke-width="1.2"/>
<rect x="141.9" y="1471.5" width="159" height="11.6" fill="none" stroke="#222" stroke-width="1.5" stroke-linejoin="round" rx="1.5"/>
<rect x="141.9" y="1489.6" width="31.8" height="11.6" fill="#b3b3b3"/>
<rect x="173.7" y="1489.6" width="31.8" height="11.6" fill="#9c9cd5"/>
<rect x="205.5" y="1489.6" width="31.8" height="11.6" fill="#6569b5"/>
<rect x="237.3" y="1489.6" width="31.8" height="11.6" fill="#4453a6"/>
<rect x="269.1" y="1489.6" width="31.8" height="11.6" fill="#364ba0"/>
<line x1="173.7" y1="1489.6" x2="173.7" y2="1501.2" stroke="#222" stroke-width="1.2"/>
<line x1="205.5" y1="1489.6" x2="205.5" y2="1501.2" stroke="#222" stroke-width="1.2"/>
<line x1="237.3" y1="1489.6" x2="237.3" y2="1501.2" stroke="#222" stroke-width="1.2"/>
<line x1="269.1" y1="1489.6" x2="269.1" y2="1501.2" stroke="#222" stroke-width="1.2"/>
<rect x="141.9" y="1489.6" width="159" height="11.6" fill="none" stroke="#222" stroke-width="1.5" stroke-linejoin="round" rx="1.5"/>
<rect x="141.9" y="1507.8" width="31.8" height="11.6" fill="#b3b3b3"/>
<rect x="173.7" y="1507.8" width="31.8" height="11.6" fill="#f8d99a"/>
<rect x="205.5" y="1507.8" width="31.8" height="11.6" fill="#f2c567"/>
<rect x="237.3" y="1507.8" width="31.8" height="11.6" fill="#eeb530"/>
<rect x="269.1" y="1507.8" width="31.8" height="11.6" fill="#e9a328"/>
<line x1="173.7" y1="1507.8" x2="173.7" y2="1519.4" stroke="#222" stroke-width="1.2"/>
<line x1="205.5" y1="1507.8" x2="205.5" y2="1519.4" stroke="#222" stroke-width="1.2"/>
<line x1="237.3" y1="1507.8" x2="237.3" y2="1519.4" stroke="#222" stroke-width="1.2"/>
<line x1="269.1" y1="1507.8" x2="269.1" y2="1519.4" stroke="#222" stroke-width="1.2"/>
<rect x="141.9" y="1507.8" width="159" height="11.6" fill="none" stroke="#222" stroke-width="1.5" stroke-linejoin="round" rx="1.5"/>
<rect x="141.9" y="1525.9" width="31.8" height="11.6" fill="#b3b3b3"/>
<rect x="173.7" y="1525.9" width="31.8" height="11.6" fill="#96d196"/>
<rect x="205.5" y="1525.9" width="31.8" height="11.6" fill="#63bd66"/>
<rect x="237.3" y="1525.9" width="31.8" height="11.6" fill="#30ad4d"/>
<rect x="269.1" y="1525.9" width="31.8" height="11.6" fill="#179947"/>
<line x1="173.7" y1="1525.9" x2="173.7" y2="1537.5" stroke="#222" stroke-width="1.2"/>
<line x1="205.5" y1="1525.9" x2="205.5" y2="1537.5" stroke="#222" stroke-width="1.2"/>
<line x1="237.3" y1="1525.9" x2="237.3" y2="1537.5" stroke="#222" stroke-width="1.2"/>
<line x1="269.1" y1="1525.9" x2="269.1" y2="1537.5" stroke="#222" stroke-width="1.2"/>
<rect x="141.9" y="1525.9" width="159" height="11.6" fill="none" stroke="#222" stroke-width="1.5" stroke-linejoin="round" rx="1.5"/>
<rect x="141.9" y="1544.1" width="31.8" height="11.6" fill="#b3b3b3"/>
<rect x="173.7" y="1544.1" width="31.8" height="11.6" fill="#f9c3dd"/>
<rect x="205.5" y="1544.1" width="31.8" height="11.6" fill="#f4a6ca"/>
<rect x="237.3" y="1544.1" width="31.8" height="11.6" fill="#f088ba"/>
<rect x="269.1" y="1544.1" width="31.8" height="11.6" fill="#ea5fa2"/>
<line x1="173.7" y1="1544.1" x2="173.7" y2="1555.7" stroke="#222" stroke-width="1.2"/>
<line x1="205.5" y1="1544.1" x2="205.5" y2="1555.7" stroke="#222" stroke-width="1.2"/>
<line x1="237.3" y1="1544.1" x2="237.3" y2="1555.7" stroke="#222" stroke-width="1.2"/>
<line x1="269.1" y1="1544.1" x2="269.1" y2="1555.7" stroke="#222" stroke-width="1.2"/>
<rect x="141.9" y="1544.1" width="159" height="11.6" fill="none" stroke="#222" stroke-width="1.5" stroke-linejoin="round" rx="1.5"/>
<rect x="141.9" y="1562.2" width="31.8" height="11.6" fill="#b3b3b3"/>
<rect x="173.7" y="1562.2" width="31.8" height="11.6" fill="#d2b1d9"/>
<rect x="205.5" y="1562.2" width="31.8" height="11.6" fill="#b58dc5"/>
<rect x="237.3" y="1562.2" width="31.8" height="11.6" fill="#9667b1"/>
<rect x="269.1" y="1562.2" width="31.8" height="11.6" fill="#804ea0"/>
<line x1="173.7" y1="1562.2" x2="173.7" y2="1573.8" stroke="#222" stroke-width="1.2"/>
<line x1="205.5" y1="1562.2" x2="205.5" y2="1573.8" stroke="#222" stroke-width="1.2"/>
<line x1="237.3" y1="1562.2" x2="237.3" y2="1573.8" stroke="#222" stroke-width="1.2"/>
<line x1="269.1" y1="1562.2" x2="269.1" y2="1573.8" stroke="#222" stroke-width="1.2"/>
<rect x="141.9" y="1562.2" width="159" height="11.6" fill="none" stroke="#222" stroke-width="1.5" stroke-linejoin="round" rx="1.5"/>
<rect x="141.9" y="1580.3" width="31.8" height="11.6" fill="#b3b3b3"/>
<rect x="173.7" y="1580.3" width="31.8" height="11.6" fill="#a7e0e9"/>
<rect x="205.5" y="1580.3" width="31.8" height="11.6" fill="#86d4e1"/>
<rect x="237.3" y="1580.3" width="31.8" height="11.6" fill="#63c9d9"/>
<rect x="269.1" y="1580.3" width="31.8" height="11.6" fill="#4fc3d3"/>
<line x1="173.7" y1="1580.3" x2="173.7" y2="1591.9" stroke="#222" stroke-width="1.2"/>
<line x1="205.5" y1="1580.3" x2="205.5" y2="1591.9" stroke="#222" stroke-width="1.2"/>
<line x1="237.3" y1="1580.3" x2="237.3" y2="1591.9" stroke="#222" stroke-width="1.2"/>
<line x1="269.1" y1="1580.3" x2="269.1" y2="1591.9" stroke="#222" stroke-width="1.2"/>
<rect x="141.9" y="1580.3" width="159" height="11.6" fill="none" stroke="#222" stroke-width="1.5" stroke-linejoin="round" rx="1.5"/>
<circle cx="324.7" cy="1476.7" r="4.2" fill="#e8383b"/>
<text x="333.5" y="1480.7" style="font-size:15.35px;" text-anchor="start" fill="#2a2a2a" stroke="#2a2a2a" stroke-width="0.3">rs2233580</text>
<polygon points="324.7,1487 319.2,1496.5 330.2,1496.5" fill="#364ba0"/>
<text x="333.5" y="1497.9" style="font-size:15.35px;" text-anchor="start" fill="#2a2a2a" stroke="#2a2a2a" stroke-width="0.3">rs3824004</text>
<rect x="320.4" y="1505" width="8.5" height="8.5" fill="#e9a328"/>
<text x="333.5" y="1515.2" style="font-size:15.35px;" text-anchor="start" fill="#2a2a2a" stroke="#2a2a2a" stroke-width="0.3">rs139034871</text>
<polygon points="324.7,1533.4 319.2,1523.9 330.2,1523.9" fill="#179947"/>
<text x="333.5" y="1532.5" style="font-size:15.35px;" text-anchor="start" fill="#2a2a2a" stroke="#2a2a2a" stroke-width="0.3">rs12673470</text>
<path d="M320.4 1541.2h8.5v8.5h-8.5zM324.7 1541.2v8.5M320.4 1545.4h8.5" fill="none" stroke="#f088ba" stroke-width="1.1"/>
<text x="333.5" y="1550.4" style="font-size:15.35px;" text-anchor="start" fill="#2a2a2a" stroke="#2a2a2a" stroke-width="0.3">rs188334367</text>
<path d="M320.4 1558.3h8.5v8.5h-8.5zM320.4 1558.3L328.9 1566.8M328.9 1558.3L320.4 1566.8" fill="none" stroke="#804ea0" stroke-width="1.1"/>
<text x="333.5" y="1567.6" style="font-size:15.35px;" text-anchor="start" fill="#2a2a2a" stroke="#2a2a2a" stroke-width="0.3">rs189429879</text>
<path d="M320.1 1579.9a4.6 4.6 0 1 0 9.2 0a4.6 4.6 0 1 0 -9.2 0M321.4 1576.6L328 1583.2M328 1576.6L321.4 1583.2" fill="none" stroke="#4fc3d3" stroke-width="1.1"/>
<text x="333.5" y="1584.9" style="font-size:15.35px;" text-anchor="start" fill="#2a2a2a" stroke="#2a2a2a" stroke-width="0.3">rs111891292</text>
<rect x="77.4" y="1961.5" width="843.9" height="67.5" fill="none" stroke="#707070" stroke-width="1.5" stroke-linejoin="round"/>
<path d="M408.4 1974.3H393.6M399.6 1971.3L393.6 1974.3L399.6 1977.3" fill="none" stroke="#111" stroke-width="1.1" stroke-linejoin="round"/>
<text x="411.3" y="1979.3" style="font-size:14.3px;font-style:italic" fill="#111" stroke="#111" stroke-width="0.25">GRM8</text>
<line x1="309.5" y1="1985.1" x2="539.7" y2="1985.1" stroke="#232a7a" stroke-width="1.1"/>
<line x1="309.5" y1="1982.7" x2="309.5" y2="1988.1" stroke="#232a7a" stroke-width="1.7"/>
<line x1="337.1" y1="1982.7" x2="337.1" y2="1988.1" stroke="#232a7a" stroke-width="1.7"/>
<line x1="358.5" y1="1982.7" x2="358.5" y2="1988.1" stroke="#232a7a" stroke-width="1.7"/>
<line x1="384.2" y1="1982.7" x2="384.2" y2="1988.1" stroke="#232a7a" stroke-width="1.7"/>
<line x1="403.1" y1="1982.7" x2="403.1" y2="1988.1" stroke="#232a7a" stroke-width="1.7"/>
<line x1="441.4" y1="1982.7" x2="441.4" y2="1988.1" stroke="#232a7a" stroke-width="1.7"/>
<line x1="497.9" y1="1982.7" x2="497.9" y2="1988.1" stroke="#232a7a" stroke-width="1.7"/>
<line x1="539.7" y1="1982.7" x2="539.7" y2="1988.1" stroke="#232a7a" stroke-width="1.7"/>
<rect x="309.5" y="1982.3" width="1.5" height="5.5" fill="#232a7a"/>
<rect x="538.2" y="1982.3" width="1.5" height="5.5" fill="#232a7a"/>
<rect x="440.6" y="1982.3" width="1.6" height="5.5" fill="#232a7a"/>
<path d="M617.5 1974.3H602.7M608.7 1971.3L602.7 1974.3L608.7 1977.3" fill="none" stroke="#111" stroke-width="1.1" stroke-linejoin="round"/>
<text x="620.4" y="1979.3" style="font-size:14.3px;font-style:italic" fill="#111" stroke="#111" stroke-width="0.25">GCC1</text>
<rect x="631.3" y="1983.6" width="2" height="5.3" fill="#232a7a"/>
<text x="708.4" y="1979.3" style="font-size:14.3px;font-style:italic" fill="#111" stroke="#111" stroke-width="0.25">SND1–IT1</text>
<path d="M776.2 1974.3H790.9M784.9 1971.3L790.9 1974.3L784.9 1977.3" fill="none" stroke="#111" stroke-width="1.1" stroke-linejoin="round"/>
<rect x="748.2" y="1983.6" width="2" height="5.3" fill="#232a7a"/>
<path d="M823.9 1974.3H809.1M815.1 1971.3L809.1 1974.3L815.1 1977.3" fill="none" stroke="#111" stroke-width="1.1" stroke-linejoin="round"/>
<text x="826.8" y="1979.3" style="font-size:14.3px;font-style:italic" fill="#111" stroke="#111" stroke-width="0.25">RBM28</text>
<rect x="837.1" y="1983.6" width="4.8" height="5.3" fill="#232a7a"/>
<rect x="842.7" y="1983.6" width="4.8" height="5.3" fill="#232a7a"/>
<path d="M464.5 2007.9H449.7M455.7 2004.9L449.7 2007.9L455.7 2010.9" fill="none" stroke="#111" stroke-width="1.1" stroke-linejoin="round"/>
<text x="467.4" y="2012.9" style="font-size:14.3px;font-style:italic" fill="#111" stroke="#111" stroke-width="0.25">MIR592</text>
<rect x="484" y="2016.5" width="1.5" height="4.7" fill="#232a7a"/>
<path d="M554.1 2007.9H539.3M545.3 2004.9L539.3 2007.9L545.3 2010.9" fill="none" stroke="#111" stroke-width="1.1" stroke-linejoin="round"/>
<text x="557" y="2012.9" style="font-size:14.3px;font-style:italic" fill="#111" stroke="#111" stroke-width="0.25">ZNF800</text>
<line x1="572.5" y1="2019" x2="578" y2="2019" stroke="#232a7a" stroke-width="1.1"/>
<line x1="572.5" y1="2016.6" x2="572.5" y2="2022" stroke="#232a7a" stroke-width="1.7"/>
<line x1="578" y1="2016.6" x2="578" y2="2022" stroke="#232a7a" stroke-width="1.7"/>
<rect x="572.5" y="2016.2" width="1.5" height="5.5" fill="#232a7a"/>
<rect x="576.5" y="2016.2" width="1.5" height="5.5" fill="#232a7a"/>
<text x="687.9" y="2012.9" style="font-size:14.3px;font-style:italic" fill="#111" stroke="#111" stroke-width="0.25">SND1</text>
<path d="M727 2007.9H741.7M735.7 2004.9L741.7 2007.9L735.7 2010.9" fill="none" stroke="#111" stroke-width="1.1" stroke-linejoin="round"/>
<line x1="651.8" y1="2019" x2="775.9" y2="2019" stroke="#232a7a" stroke-width="1.1"/>
<line x1="651.8" y1="2016.6" x2="651.8" y2="2022" stroke="#232a7a" stroke-width="1.7"/>
<line x1="672.2" y1="2016.6" x2="672.2" y2="2022" stroke="#232a7a" stroke-width="1.7"/>
<line x1="695.8" y1="2016.6" x2="695.8" y2="2022" stroke="#232a7a" stroke-width="1.7"/>
<line x1="706.2" y1="2016.6" x2="706.2" y2="2022" stroke="#232a7a" stroke-width="1.7"/>
<line x1="717.8" y1="2016.6" x2="717.8" y2="2022" stroke="#232a7a" stroke-width="1.7"/>
<line x1="722.5" y1="2016.6" x2="722.5" y2="2022" stroke="#232a7a" stroke-width="1.7"/>
<line x1="728.8" y1="2016.6" x2="728.8" y2="2022" stroke="#232a7a" stroke-width="1.7"/>
<line x1="746" y1="2016.6" x2="746" y2="2022" stroke="#232a7a" stroke-width="1.7"/>
<rect x="662.8" y="2016.2" width="4.7" height="5.5" fill="#232a7a"/>
<rect x="771.2" y="2016.2" width="4.7" height="5.5" fill="#232a7a"/>
<text x="799.4" y="2012.9" style="font-size:14.3px;font-style:italic" fill="#111" stroke="#111" stroke-width="0.25">LEP</text>
<path d="M827.4 2007.9H842.1M836.1 2004.9L842.1 2007.9L836.1 2010.9" fill="none" stroke="#111" stroke-width="1.1" stroke-linejoin="round"/>
<line x1="816.7" y1="2019" x2="823" y2="2019" stroke="#232a7a" stroke-width="1.1"/>
<line x1="816.7" y1="2016.6" x2="816.7" y2="2022" stroke="#232a7a" stroke-width="1.7"/>
<line x1="823" y1="2016.6" x2="823" y2="2022" stroke="#232a7a" stroke-width="1.7"/>
<rect x="816.7" y="2016.2" width="1.8" height="5.5" fill="#232a7a"/>
<rect x="821.2" y="2016.2" width="1.8" height="5.5" fill="#232a7a"/>
<text x="943" y="1989.2" style="font-size:17.2px;" text-anchor="start" fill="#444444" stroke="#444444" stroke-width="0.3">13 genes</text>
<text x="943" y="2014.5" style="font-size:17.2px;" text-anchor="start" fill="#444444" stroke="#444444" stroke-width="0.3">omitted</text>
<line x1="147.2" y1="2029" x2="147.2" y2="2040" stroke="#707070" stroke-width="1.4"/>
<text x="147.2" y="2066.4" style="font-size:17px;" text-anchor="middle" fill="#444444" stroke="#444444" stroke-width="0.3">125.5</text>
<line x1="287.9" y1="2029" x2="287.9" y2="2040" stroke="#707070" stroke-width="1.4"/>
<text x="287.9" y="2066.4" style="font-size:17px;" text-anchor="middle" fill="#444444" stroke="#444444" stroke-width="0.3">126</text>
<line x1="428.6" y1="2029" x2="428.6" y2="2040" stroke="#707070" stroke-width="1.4"/>
<text x="428.6" y="2066.4" style="font-size:17px;" text-anchor="middle" fill="#444444" stroke="#444444" stroke-width="0.3">126.5</text>
<line x1="569.4" y1="2029" x2="569.4" y2="2040" stroke="#707070" stroke-width="1.4"/>
<text x="569.4" y="2066.4" style="font-size:17px;" text-anchor="middle" fill="#444444" stroke="#444444" stroke-width="0.3">127</text>
<line x1="710.1" y1="2029" x2="710.1" y2="2040" stroke="#707070" stroke-width="1.4"/>
<text x="710.1" y="2066.4" style="font-size:17px;" text-anchor="middle" fill="#444444" stroke="#444444" stroke-width="0.3">127.5</text>
<line x1="850.8" y1="2029" x2="850.8" y2="2040" stroke="#707070" stroke-width="1.4"/>
<text x="850.8" y="2066.4" style="font-size:17px;" text-anchor="middle" fill="#444444" stroke="#444444" stroke-width="0.3">128</text>
<text x="498.7" y="2092.3" style="font-size:17.3px;" text-anchor="middle" fill="#444444" stroke="#444444" stroke-width="0.3">Position on chr7 (Mb)</text>
</svg>
</body></html>
